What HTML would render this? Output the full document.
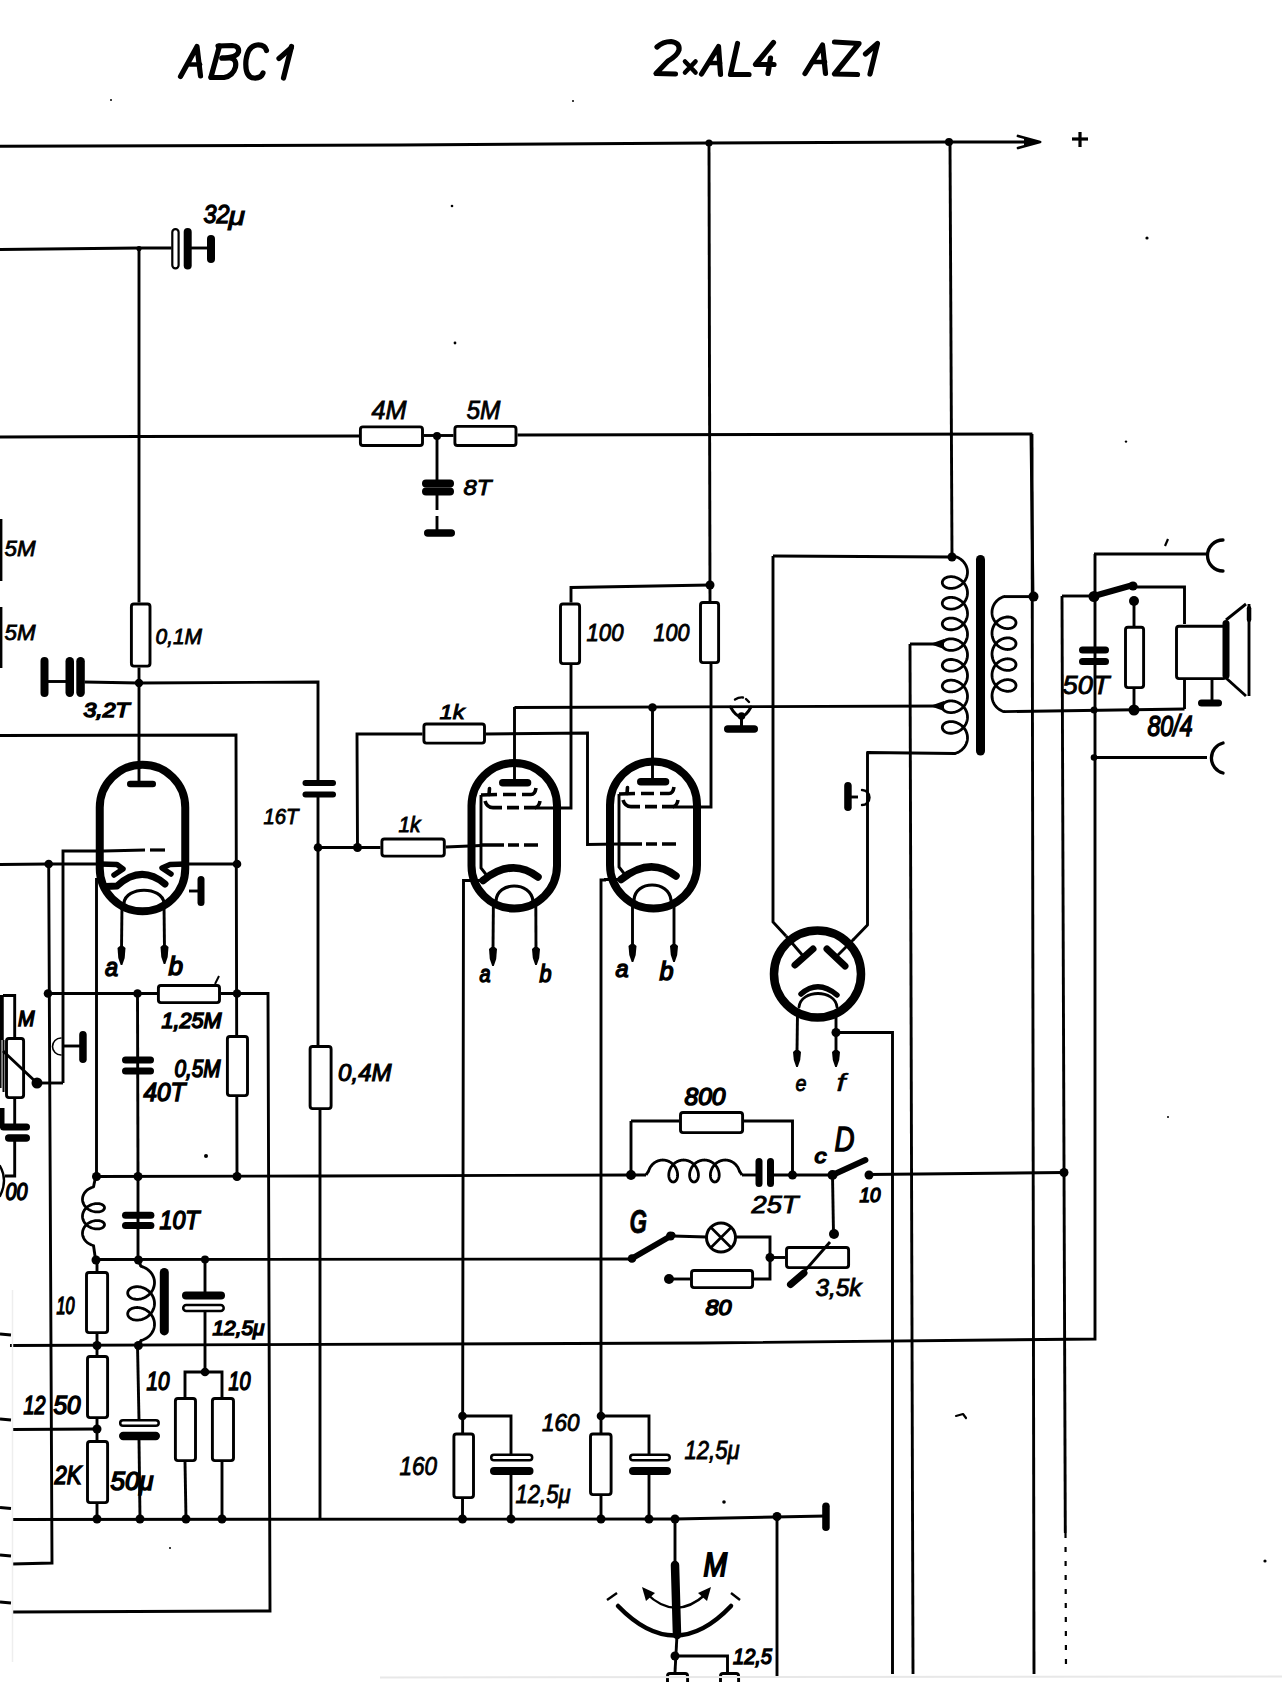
<!DOCTYPE html>
<html><head><meta charset="utf-8"><style>
html,body{margin:0;padding:0;background:#fff;}
svg{display:block;}
text{fill:#000;}
</style></head><body>
<svg width="1282" height="1682" viewBox="0 0 1282 1682">
<rect x="0" y="0" width="1282" height="1682" fill="#fff"/>
<path d="M180.5,76.5 L197,46.5 L200.5,76" fill="none" stroke="#000" stroke-width="5.2" stroke-linecap="round" stroke-linejoin="round"/>
<path d="M190,64.5 L200,64.5" fill="none" stroke="#000" stroke-width="4.7" stroke-linecap="round" stroke-linejoin="round"/>
<path d="M219.5,46 L211,77" fill="none" stroke="#000" stroke-width="5.2" stroke-linecap="round" stroke-linejoin="round"/>
<path d="M218,46 L232,45.5 Q239.5,46 238.5,52 Q237,57 225,58 L222,58" fill="none" stroke="#000" stroke-width="5.2" stroke-linecap="round" stroke-linejoin="round"/>
<path d="M222,58 L230,58 Q237,59 235.5,67 Q233,76 224,77.5 L211,77.5" fill="none" stroke="#000" stroke-width="5.2" stroke-linecap="round" stroke-linejoin="round"/>
<path d="M266.5,50.5 Q265,44.5 257,45 Q248,46 246,60 Q244.5,77 254,78 Q261,78.5 263,73" fill="none" stroke="#000" stroke-width="5.2" stroke-linecap="round" stroke-linejoin="round"/>
<path d="M279,58.5 L291,48" fill="none" stroke="#000" stroke-width="5.2" stroke-linecap="round" stroke-linejoin="round"/>
<path d="M291.5,46.5 L283.5,78" fill="none" stroke="#000" stroke-width="5.2" stroke-linecap="round" stroke-linejoin="round"/>
<path d="M657,47 Q663,41.5 671,41.5 Q680,42.5 679,50 Q677,56 668,61 L656,73.5 L675.5,74" fill="none" stroke="#000" stroke-width="5.2" stroke-linecap="round" stroke-linejoin="round"/>
<path d="M685,61.5 L695.5,72.5 M695.5,61.5 L685,72.5" fill="none" stroke="#000" stroke-width="4.6" stroke-linecap="round" stroke-linejoin="round"/>
<path d="M701.5,74 L718.5,46.5 L720.5,74.5" fill="none" stroke="#000" stroke-width="5.2" stroke-linecap="round" stroke-linejoin="round"/>
<path d="M709,63 L720,63" fill="none" stroke="#000" stroke-width="4.7" stroke-linecap="round" stroke-linejoin="round"/>
<path d="M737.5,43.5 L730.5,74.5 L749,74.5" fill="none" stroke="#000" stroke-width="5.2" stroke-linecap="round" stroke-linejoin="round"/>
<path d="M773.5,42.5 L755.5,64.5 L774,64.5" fill="none" stroke="#000" stroke-width="5.2" stroke-linecap="round" stroke-linejoin="round"/>
<path d="M770.5,58 L768,73.5" fill="none" stroke="#000" stroke-width="5.2" stroke-linecap="round" stroke-linejoin="round"/>
<path d="M805,73.5 L822.5,45 L825.5,73.5" fill="none" stroke="#000" stroke-width="5.2" stroke-linecap="round" stroke-linejoin="round"/>
<path d="M812,62 L825,62" fill="none" stroke="#000" stroke-width="4.7" stroke-linecap="round" stroke-linejoin="round"/>
<path d="M834.5,42 L859,43.5 L834.5,74 L857.5,74.5" fill="none" stroke="#000" stroke-width="5.2" stroke-linecap="round" stroke-linejoin="round"/>
<path d="M865.5,54 L877.5,43.5 L870,74" fill="none" stroke="#000" stroke-width="5.2" stroke-linecap="round" stroke-linejoin="round"/>
<polyline points="0.0,146.2 400.0,145.0 709.0,143.0 948.0,142.0 1036.0,142.0" fill="none" stroke="#000" stroke-width="2.9" stroke-linejoin="miter" stroke-linecap="butt"/>
<path d="M1018,136 L1040,142 L1018,148" fill="none" stroke="#000" stroke-width="2.8" stroke-linecap="round" stroke-linejoin="round"/>
<path d="M1024,138.5 L1042,142 L1024,145.5 Z" fill="#000" stroke="none"/>
<polyline points="1072.0,139.0 1088.0,139.0" fill="none" stroke="#000" stroke-width="3.2" stroke-linejoin="miter" stroke-linecap="butt"/>
<polyline points="1080.0,132.0 1080.0,147.0" fill="none" stroke="#000" stroke-width="3.2" stroke-linejoin="miter" stroke-linecap="butt"/>
<circle cx="709" cy="143" r="3.6" fill="#000"/>
<circle cx="949" cy="142" r="4" fill="#000"/>
<circle cx="1147" cy="238" r="1.6" fill="#000"/>
<polyline points="0.0,249.5 139.0,248.0 171.5,248.0" fill="none" stroke="#000" stroke-width="2.9" stroke-linejoin="miter" stroke-linecap="butt"/>
<circle cx="139" cy="248.5" r="2.6" fill="#000"/>
<rect x="172.3" y="229.1" width="6.3" height="39.3" rx="3.1" fill="#fff" stroke="#000" stroke-width="2.2"/>
<rect x="183.7" y="228" width="8" height="41.5" rx="4.0" fill="#000"/>
<polyline points="191.0,248.0 208.0,248.0" fill="none" stroke="#000" stroke-width="2.9" stroke-linejoin="miter" stroke-linecap="butt"/>
<rect x="207.0" y="235" width="8" height="28" rx="4.0" fill="#000"/>
<text x="203.5" y="222.8" font-family="Liberation Sans" font-size="25.4" font-style="italic" font-weight="normal" textLength="26.0" lengthAdjust="spacingAndGlyphs" stroke="#000" stroke-width="1.3">32</text>
<text x="228.5" y="225.0" font-family="Liberation Sans" font-size="25.3" font-style="italic" font-weight="normal" textLength="16.5" lengthAdjust="spacingAndGlyphs" stroke="#000" stroke-width="1.1">μ</text>
<polyline points="0.0,437.0 139.0,436.5 359.0,436.0" fill="none" stroke="#000" stroke-width="2.9" stroke-linejoin="miter" stroke-linecap="butt"/>
<rect x="360.4" y="426.9" width="62.1" height="18.6" rx="2.5" fill="#fff" stroke="#000" stroke-width="2.9"/>
<polyline points="424.0,435.5 453.5,435.5" fill="none" stroke="#000" stroke-width="2.9" stroke-linejoin="miter" stroke-linecap="butt"/>
<rect x="454.9" y="426.4" width="61.1" height="19.1" rx="2.5" fill="#fff" stroke="#000" stroke-width="2.9"/>
<polyline points="517.5,435.0 1031.0,434.0 1033.0,596.0" fill="none" stroke="#000" stroke-width="2.9" stroke-linejoin="miter" stroke-linecap="butt"/>
<circle cx="437" cy="436" r="4" fill="#000"/>
<polyline points="437.0,436.0 437.0,481.0" fill="none" stroke="#000" stroke-width="2.9" stroke-linejoin="miter" stroke-linecap="butt"/>
<rect x="422" y="479.5" width="32" height="8" rx="4.0" fill="#000"/>
<rect x="422" y="487.5" width="32" height="8" rx="4.0" fill="#000"/>
<polyline points="437.0,495.0 437.0,510.0" fill="none" stroke="#000" stroke-width="2.9" stroke-linejoin="miter" stroke-linecap="butt"/>
<polyline points="437.0,516.0 437.0,533.0" fill="none" stroke="#000" stroke-width="2.9" stroke-linejoin="miter" stroke-linecap="butt"/>
<rect x="424" y="529.2" width="31" height="7.5" rx="3.8" fill="#000"/>
<text x="371.5" y="419.0" font-family="Liberation Sans" font-size="25.0" font-style="italic" font-weight="normal" textLength="35.0" lengthAdjust="spacingAndGlyphs" stroke="#000" stroke-width="0.8">4M</text>
<text x="466.5" y="419.0" font-family="Liberation Sans" font-size="25.0" font-style="italic" font-weight="normal" textLength="34.0" lengthAdjust="spacingAndGlyphs" stroke="#000" stroke-width="0.8">5M</text>
<text x="463.5" y="495.0" font-family="Liberation Sans" font-size="22.2" font-style="italic" font-weight="normal" textLength="28.0" lengthAdjust="spacingAndGlyphs" stroke="#000" stroke-width="0.9">8T</text>
<polyline points="139.0,248.0 139.0,602.5" fill="none" stroke="#000" stroke-width="2.9" stroke-linejoin="miter" stroke-linecap="butt"/>
<rect x="131.4" y="604.0" width="18.6" height="62.1" rx="2.5" fill="#fff" stroke="#000" stroke-width="2.9"/>
<text x="155.5" y="644.0" font-family="Liberation Sans" font-size="22.9" font-style="italic" font-weight="normal" textLength="46.5" lengthAdjust="spacingAndGlyphs" stroke="#000" stroke-width="0.9">0,1M</text>
<polyline points="139.0,667.5 139.0,784.0" fill="none" stroke="#000" stroke-width="2.9" stroke-linejoin="miter" stroke-linecap="butt"/>
<circle cx="139" cy="683" r="4.2" fill="#000"/>
<polyline points="84.5,682.0 139.0,683.0 318.0,682.0 318.0,780.0" fill="none" stroke="#000" stroke-width="2.9" stroke-linejoin="miter" stroke-linecap="butt"/>
<rect x="40.5" y="657" width="8" height="40" rx="4.0" fill="#000"/>
<polyline points="48.0,681.5 66.0,681.5" fill="none" stroke="#000" stroke-width="2.9" stroke-linejoin="miter" stroke-linecap="butt"/>
<rect x="65.5" y="657" width="8.5" height="40" rx="4.2" fill="#000"/>
<rect x="76.3" y="657" width="8.5" height="40" rx="4.2" fill="#000"/>
<text x="83.5" y="717.0" font-family="Liberation Sans" font-size="20.8" font-style="italic" font-weight="normal" textLength="46.0" lengthAdjust="spacingAndGlyphs" stroke="#000" stroke-width="1.5">3,2T</text>
<polyline points="1.2,519.0 1.2,581.0" fill="none" stroke="#000" stroke-width="2.4" stroke-linejoin="miter" stroke-linecap="butt"/>
<polyline points="1.2,607.0 1.2,668.0" fill="none" stroke="#000" stroke-width="2.4" stroke-linejoin="miter" stroke-linecap="butt"/>
<text x="4.5" y="555.5" font-family="Liberation Sans" font-size="21.5" font-style="italic" font-weight="normal" textLength="31.0" lengthAdjust="spacingAndGlyphs" stroke="#000" stroke-width="0.8">5M</text>
<text x="4.5" y="640.0" font-family="Liberation Sans" font-size="21.5" font-style="italic" font-weight="normal" textLength="31.0" lengthAdjust="spacingAndGlyphs" stroke="#000" stroke-width="0.8">5M</text>
<rect x="99.75" y="764.75" width="85.5" height="146.5" rx="42.75" ry="42.75" fill="none" stroke="#000" stroke-width="8"/>
<rect x="127" y="780.8" width="29" height="6.5" rx="3.2" fill="#000"/>
<polyline points="0.0,735.5 236.0,735.0 237.0,1176.0" fill="none" stroke="#000" stroke-width="2.9" stroke-linejoin="miter" stroke-linecap="butt"/>
<polyline points="63.0,1083.0 63.0,851.0 104.0,851.0" fill="none" stroke="#000" stroke-width="2.9" stroke-linejoin="miter" stroke-linecap="butt"/>
<polyline points="104.0,851.0 145.0,850.0" fill="none" stroke="#000" stroke-width="3" stroke-linejoin="miter" stroke-linecap="butt"/>
<polyline points="150.0,850.0 165.0,850.0" fill="none" stroke="#000" stroke-width="3.2" stroke-linejoin="miter" stroke-linecap="butt"/>
<polyline points="0.0,864.5 48.7,864.0 100.0,864.0" fill="none" stroke="#000" stroke-width="2.9" stroke-linejoin="miter" stroke-linecap="butt"/>
<polyline points="187.0,864.0 237.0,864.0" fill="none" stroke="#000" stroke-width="2.9" stroke-linejoin="miter" stroke-linecap="butt"/>
<circle cx="48.7" cy="864" r="4.3" fill="#000"/>
<circle cx="237" cy="864" r="4.3" fill="#000"/>
<path d="M100,864 L117,864.5 L123,869 L114,875" fill="none" stroke="#000" stroke-width="5.5" stroke-linecap="round" stroke-linejoin="round"/>
<path d="M186,864 L170,864.5 L162,868 L171,874" fill="none" stroke="#000" stroke-width="5.5" stroke-linecap="round" stroke-linejoin="round"/>
<path d="M106,886.5 L117,886 Q141,864 165,884" fill="none" stroke="#000" stroke-width="7" stroke-linecap="round" stroke-linejoin="round"/>
<path d="M124,903 C126,886 162,886 164,903" fill="none" stroke="#000" stroke-width="3.2" stroke-linecap="round" stroke-linejoin="round"/>
<polyline points="96.5,878.0 96.5,1176.0" fill="none" stroke="#000" stroke-width="2.9" stroke-linejoin="miter" stroke-linecap="butt"/>
<polyline points="189.0,891.0 200.0,891.0" fill="none" stroke="#000" stroke-width="2.9" stroke-linejoin="miter" stroke-linecap="butt"/>
<rect x="197.5" y="876" width="7" height="30" rx="3.5" fill="#000"/>
<polyline points="122.0,904.0 121.5,950.0" fill="none" stroke="#000" stroke-width="2.9" stroke-linejoin="miter" stroke-linecap="butt"/>
<path d="M117.5,948 Q121.5,943 125.5,948 L124.7,958 L122.3,965 L120.7,965 L118.3,958 Z" fill="#000" stroke="none"/>
<polyline points="164.0,904.0 164.5,950.0" fill="none" stroke="#000" stroke-width="2.9" stroke-linejoin="miter" stroke-linecap="butt"/>
<path d="M160.5,947 Q164.5,942 168.5,947 L167.7,957 L165.3,964 L163.7,964 L161.3,957 Z" fill="#000" stroke="none"/>
<text x="105.0" y="976.0" font-family="Liberation Sans" font-size="26.4" font-style="italic" font-weight="normal" textLength="13.1" lengthAdjust="spacingAndGlyphs" stroke="#000" stroke-width="1.5">a</text>
<text x="168.5" y="975.0" font-family="Liberation Sans" font-size="25.0" font-style="italic" font-weight="normal" textLength="14.5" lengthAdjust="spacingAndGlyphs" stroke="#000" stroke-width="1.5">b</text>
<polyline points="48.7,864.0 52.0,1563.0 12.0,1564.0" fill="none" stroke="#000" stroke-width="2.9" stroke-linejoin="miter" stroke-linecap="butt"/>
<polyline points="47.5,993.5 157.0,993.5" fill="none" stroke="#000" stroke-width="2.9" stroke-linejoin="miter" stroke-linecap="butt"/>
<rect x="158.4" y="985.5" width="61.1" height="17.1" rx="2.5" fill="#fff" stroke="#000" stroke-width="2.9"/>
<polyline points="215.0,984.0 219.0,976.0" fill="none" stroke="#000" stroke-width="2" stroke-linejoin="miter" stroke-linecap="butt"/>
<polyline points="221.0,993.5 268.0,993.5 270.0,1611.0 13.0,1612.0" fill="none" stroke="#000" stroke-width="2.9" stroke-linejoin="miter" stroke-linecap="butt"/>
<circle cx="48" cy="993.5" r="4.3" fill="#000"/>
<circle cx="137.5" cy="993.5" r="4.3" fill="#000"/>
<circle cx="237" cy="993.5" r="4.3" fill="#000"/>
<text x="161.5" y="1028.0" font-family="Liberation Sans" font-size="22.2" font-style="italic" font-weight="normal" textLength="60.0" lengthAdjust="spacingAndGlyphs" stroke="#000" stroke-width="1.5">1,25M</text>
<polyline points="137.5,993.5 138.0,1176.0" fill="none" stroke="#000" stroke-width="2.9" stroke-linejoin="miter" stroke-linecap="butt"/>
<rect x="122" y="1056.5" width="32" height="7" rx="3.5" fill="#000"/>
<rect x="122" y="1067.5" width="32" height="7" rx="3.5" fill="#000"/>
<text x="143.5" y="1101.0" font-family="Liberation Sans" font-size="26.4" font-style="italic" font-weight="normal" textLength="42.0" lengthAdjust="spacingAndGlyphs" stroke="#000" stroke-width="1.5">40T</text>
<rect x="227.4" y="1036.5" width="20.1" height="59.1" rx="2.5" fill="#fff" stroke="#000" stroke-width="2.9"/>
<text x="174.5" y="1077.0" font-family="Liberation Sans" font-size="23.6" font-style="italic" font-weight="normal" textLength="46.0" lengthAdjust="spacingAndGlyphs" stroke="#000" stroke-width="1.5">0,5M</text>
<polyline points="96.0,1176.5 320.0,1176.0 631.0,1175.0 646.0,1175.0" fill="none" stroke="#000" stroke-width="2.9" stroke-linejoin="miter" stroke-linecap="butt"/>
<circle cx="96.5" cy="1176.5" r="4.5" fill="#000"/>
<circle cx="138" cy="1176.5" r="4.5" fill="#000"/>
<circle cx="237" cy="1176.5" r="4.5" fill="#000"/>
<path d="M93.50,1187.00 L92.64,1187.24 L91.78,1187.52 L90.93,1187.86 L90.10,1188.24 L89.29,1188.67 L88.51,1189.15 L87.75,1189.67 L87.03,1190.23 L86.36,1190.83 L85.72,1191.47 L85.14,1192.14 L84.60,1192.85 L84.12,1193.58 L83.70,1194.34 L83.34,1195.13 L83.04,1195.93 L82.80,1196.74 L82.64,1197.57 L82.53,1198.41 L82.50,1199.25 L82.53,1200.09 L82.64,1200.93 L82.80,1201.76 L83.04,1202.57 L83.34,1203.37 L83.70,1204.16 L84.12,1204.92 L84.60,1205.65 L85.14,1206.36 L85.72,1207.03 L86.36,1207.67 L87.03,1208.27 L87.75,1208.83 L88.51,1209.35 L89.29,1209.83 L90.10,1210.26 L90.93,1210.64 L91.78,1210.98 L92.64,1211.26 L93.50,1211.50 L94.36,1211.69 L95.22,1211.83 L96.07,1211.92 L96.90,1211.96 L97.71,1211.95 L98.49,1211.90 L99.25,1211.81 L99.97,1211.67 L100.64,1211.50 L101.28,1211.28 L101.86,1211.03 L102.40,1210.75 L102.88,1210.44 L103.30,1210.11 L103.66,1209.75 L103.96,1209.37 L104.20,1208.98 L104.36,1208.58 L104.47,1208.17 L104.50,1207.75 L104.47,1207.33 L104.36,1206.92 L104.20,1206.52 L103.96,1206.13 L103.66,1205.75 L103.30,1205.39 L102.88,1205.06 L102.40,1204.75 L101.86,1204.47 L101.28,1204.22 L100.64,1204.00 L99.97,1203.83 L99.25,1203.69 L98.49,1203.60 L97.71,1203.55 L96.90,1203.54 L96.07,1203.58 L95.22,1203.67 L94.36,1203.81 L93.50,1204.00 L92.64,1204.24 L91.78,1204.52 L90.93,1204.86 L90.10,1205.24 L89.29,1205.67 L88.51,1206.15 L87.75,1206.67 L87.03,1207.23 L86.36,1207.83 L85.72,1208.47 L85.14,1209.14 L84.60,1209.85 L84.12,1210.58 L83.70,1211.34 L83.34,1212.13 L83.04,1212.93 L82.80,1213.74 L82.64,1214.57 L82.53,1215.41 L82.50,1216.25 L82.53,1217.09 L82.64,1217.93 L82.80,1218.76 L83.04,1219.57 L83.34,1220.37 L83.70,1221.16 L84.12,1221.92 L84.60,1222.65 L85.14,1223.36 L85.72,1224.03 L86.36,1224.67 L87.03,1225.27 L87.75,1225.83 L88.51,1226.35 L89.29,1226.83 L90.10,1227.26 L90.93,1227.64 L91.78,1227.98 L92.64,1228.26 L93.50,1228.50 L94.36,1228.69 L95.22,1228.83 L96.07,1228.92 L96.90,1228.96 L97.71,1228.95 L98.49,1228.90 L99.25,1228.81 L99.97,1228.67 L100.64,1228.50 L101.28,1228.28 L101.86,1228.03 L102.40,1227.75 L102.88,1227.44 L103.30,1227.11 L103.66,1226.75 L103.96,1226.37 L104.20,1225.98 L104.36,1225.58 L104.47,1225.17 L104.50,1224.75 L104.47,1224.33 L104.36,1223.92 L104.20,1223.52 L103.96,1223.13 L103.66,1222.75 L103.30,1222.39 L102.88,1222.06 L102.40,1221.75 L101.86,1221.47 L101.28,1221.22 L100.64,1221.00 L99.97,1220.83 L99.25,1220.69 L98.49,1220.60 L97.71,1220.55 L96.90,1220.54 L96.07,1220.58 L95.22,1220.67 L94.36,1220.81 L93.50,1221.00 L92.64,1221.24 L91.78,1221.52 L90.93,1221.86 L90.10,1222.24 L89.29,1222.67 L88.51,1223.15 L87.75,1223.67 L87.03,1224.23 L86.36,1224.83 L85.72,1225.47 L85.14,1226.14 L84.60,1226.85 L84.12,1227.58 L83.70,1228.34 L83.34,1229.13 L83.04,1229.93 L82.80,1230.74 L82.64,1231.57 L82.53,1232.41 L82.50,1233.25 L82.53,1234.09 L82.64,1234.93 L82.80,1235.76 L83.04,1236.57 L83.34,1237.37 L83.70,1238.16 L84.12,1238.92 L84.60,1239.65 L85.14,1240.36 L85.72,1241.03 L86.36,1241.67 L87.03,1242.27 L87.75,1242.83 L88.51,1243.35 L89.29,1243.83 L90.10,1244.26 L90.93,1244.64 L91.78,1244.98 L92.64,1245.26 L93.50,1245.50" fill="none" stroke="#000" stroke-width="2.8" stroke-linecap="round" stroke-linejoin="round"/>
<polyline points="95.6,1176.7 93.5,1187.0" fill="none" stroke="#000" stroke-width="2.9" stroke-linejoin="miter" stroke-linecap="butt"/>
<polyline points="93.5,1245.5 95.6,1260.0" fill="none" stroke="#000" stroke-width="2.9" stroke-linejoin="miter" stroke-linecap="butt"/>
<polyline points="138.0,1176.0 138.0,1259.0" fill="none" stroke="#000" stroke-width="2.9" stroke-linejoin="miter" stroke-linecap="butt"/>
<rect x="122" y="1211.8" width="32.400000000000006" height="7" rx="3.5" fill="#000"/>
<rect x="122" y="1222.1" width="32.400000000000006" height="7" rx="3.5" fill="#000"/>
<text x="159.5" y="1229.0" font-family="Liberation Sans" font-size="25.0" font-style="italic" font-weight="normal" textLength="40.0" lengthAdjust="spacingAndGlyphs" stroke="#000" stroke-width="1.5">10T</text>
<polyline points="96.0,1259.5 631.0,1259.0" fill="none" stroke="#000" stroke-width="2.9" stroke-linejoin="miter" stroke-linecap="butt"/>
<circle cx="96" cy="1260" r="4.5" fill="#000"/>
<circle cx="138.4" cy="1260" r="4.5" fill="#000"/>
<circle cx="205" cy="1259.5" r="4" fill="#000"/>
<rect x="6.5" y="1038.5" width="17.1" height="59.1" rx="2.5" fill="#fff" stroke="#000" stroke-width="2.9"/>
<polyline points="14.7,1037.0 14.7,995.5 3.0,995.5" fill="none" stroke="#000" stroke-width="2.9" stroke-linejoin="miter" stroke-linecap="butt"/>
<polyline points="3.0,1051.0 37.0,1083.0" fill="none" stroke="#000" stroke-width="2.9" stroke-linejoin="miter" stroke-linecap="butt"/>
<circle cx="37" cy="1083" r="5.5" fill="#000"/>
<polyline points="37.0,1083.0 63.0,1083.0" fill="none" stroke="#000" stroke-width="2.9" stroke-linejoin="miter" stroke-linecap="butt"/>
<text x="18.0" y="1026.0" font-family="Liberation Sans" font-size="22.2" font-style="italic" font-weight="normal" textLength="16.5" lengthAdjust="spacingAndGlyphs" stroke="#000" stroke-width="1.5">M</text>
<polyline points="14.7,1099.0 14.7,1127.0" fill="none" stroke="#000" stroke-width="2.9" stroke-linejoin="miter" stroke-linecap="butt"/>
<rect x="0" y="1123.5" width="30" height="7" rx="3.5" fill="#000"/>
<rect x="5" y="1134.2" width="25" height="7.5" rx="3.8" fill="#000"/>
<polyline points="14.7,1139.0 14.7,1176.0 5.0,1176.0" fill="none" stroke="#000" stroke-width="2.9" stroke-linejoin="miter" stroke-linecap="butt"/>
<text x="5.5" y="1200.0" font-family="Liberation Sans" font-size="23.6" font-style="italic" font-weight="normal" textLength="22.0" lengthAdjust="spacingAndGlyphs" stroke="#000" stroke-width="1.5">00</text>
<polyline points="1.5,995.0 1.5,1040.0" fill="none" stroke="#000" stroke-width="4.5" stroke-linejoin="miter" stroke-linecap="butt"/>
<polyline points="3.5,1040.0 3.5,1092.0" fill="none" stroke="#000" stroke-width="2" stroke-linejoin="miter" stroke-linecap="butt"/>
<polyline points="0.8,1040.0 0.8,1088.0" fill="none" stroke="#000" stroke-width="1.5" stroke-linejoin="miter" stroke-linecap="butt"/>
<rect x="0" y="1108" width="4.5" height="20" fill="#000"/>
<path d="M0,1166 Q8,1180 0,1196" fill="none" stroke="#000" stroke-width="2.4" stroke-linecap="round" stroke-linejoin="round"/>
<path d="M61,1038 A8,8 0 1,0 61,1055" fill="none" stroke="#000" stroke-width="1.6" stroke-linecap="round" stroke-linejoin="round"/>
<polyline points="63.0,1046.0 80.0,1046.0" fill="none" stroke="#000" stroke-width="2.9" stroke-linejoin="miter" stroke-linecap="butt"/>
<rect x="79.2" y="1031" width="7.5" height="32" rx="3.8" fill="#000"/>
<polyline points="97.0,1259.5 97.0,1271.0" fill="none" stroke="#000" stroke-width="2.9" stroke-linejoin="miter" stroke-linecap="butt"/>
<rect x="86.5" y="1272.5" width="21.1" height="60.1" rx="2.5" fill="#fff" stroke="#000" stroke-width="2.9"/>
<text x="56.5" y="1314.0" font-family="Liberation Sans" font-size="23.6" font-style="italic" font-weight="normal" textLength="18.0" lengthAdjust="spacingAndGlyphs" stroke="#000" stroke-width="1.5">10</text>
<polyline points="97.0,1334.0 97.0,1355.0" fill="none" stroke="#000" stroke-width="2.9" stroke-linejoin="miter" stroke-linecap="butt"/>
<path d="M141.10,1266.40 L142.15,1266.69 L143.20,1267.06 L144.23,1267.48 L145.24,1267.98 L146.23,1268.54 L147.18,1269.16 L148.10,1269.84 L148.98,1270.58 L149.80,1271.38 L150.58,1272.22 L151.29,1273.12 L151.94,1274.05 L152.53,1275.03 L153.04,1276.05 L153.48,1277.09 L153.84,1278.16 L154.13,1279.25 L154.34,1280.36 L154.46,1281.48 L154.50,1282.60 L154.46,1283.72 L154.34,1284.84 L154.13,1285.95 L153.84,1287.04 L153.48,1288.11 L153.04,1289.15 L152.53,1290.17 L151.94,1291.15 L151.29,1292.08 L150.58,1292.98 L149.80,1293.82 L148.98,1294.62 L148.10,1295.36 L147.18,1296.04 L146.23,1296.66 L145.24,1297.22 L144.23,1297.72 L143.20,1298.14 L142.15,1298.51 L141.10,1298.80 L140.05,1299.03 L139.00,1299.18 L137.97,1299.28 L136.96,1299.30 L135.97,1299.26 L135.02,1299.16 L134.10,1299.00 L133.22,1298.78 L132.40,1298.50 L131.62,1298.18 L130.91,1297.80 L130.26,1297.39 L129.67,1296.93 L129.16,1296.43 L128.72,1295.91 L128.36,1295.36 L128.07,1294.79 L127.86,1294.20 L127.74,1293.60 L127.70,1293.00 L127.74,1292.40 L127.86,1291.80 L128.07,1291.21 L128.36,1290.64 L128.72,1290.09 L129.16,1289.57 L129.67,1289.07 L130.26,1288.61 L130.91,1288.20 L131.62,1287.82 L132.40,1287.50 L133.22,1287.22 L134.10,1287.00 L135.02,1286.84 L135.97,1286.74 L136.96,1286.70 L137.97,1286.72 L139.00,1286.82 L140.05,1286.97 L141.10,1287.20 L142.15,1287.49 L143.20,1287.86 L144.23,1288.28 L145.24,1288.78 L146.23,1289.34 L147.18,1289.96 L148.10,1290.64 L148.98,1291.38 L149.80,1292.18 L150.58,1293.02 L151.29,1293.92 L151.94,1294.85 L152.53,1295.83 L153.04,1296.85 L153.48,1297.89 L153.84,1298.96 L154.13,1300.05 L154.34,1301.16 L154.46,1302.28 L154.50,1303.40 L154.46,1304.52 L154.34,1305.64 L154.13,1306.75 L153.84,1307.84 L153.48,1308.91 L153.04,1309.95 L152.53,1310.97 L151.94,1311.95 L151.29,1312.88 L150.58,1313.78 L149.80,1314.62 L148.98,1315.42 L148.10,1316.16 L147.18,1316.84 L146.23,1317.46 L145.24,1318.02 L144.23,1318.52 L143.20,1318.94 L142.15,1319.31 L141.10,1319.60 L140.05,1319.83 L139.00,1319.98 L137.97,1320.08 L136.96,1320.10 L135.97,1320.06 L135.02,1319.96 L134.10,1319.80 L133.22,1319.58 L132.40,1319.30 L131.62,1318.98 L130.91,1318.60 L130.26,1318.19 L129.67,1317.73 L129.16,1317.23 L128.72,1316.71 L128.36,1316.16 L128.07,1315.59 L127.86,1315.00 L127.74,1314.40 L127.70,1313.80 L127.74,1313.20 L127.86,1312.60 L128.07,1312.01 L128.36,1311.44 L128.72,1310.89 L129.16,1310.37 L129.67,1309.87 L130.26,1309.41 L130.91,1309.00 L131.62,1308.62 L132.40,1308.30 L133.22,1308.02 L134.10,1307.80 L135.02,1307.64 L135.97,1307.54 L136.96,1307.50 L137.97,1307.52 L139.00,1307.62 L140.05,1307.77 L141.10,1308.00 L142.15,1308.29 L143.20,1308.66 L144.23,1309.08 L145.24,1309.58 L146.23,1310.14 L147.18,1310.76 L148.10,1311.44 L148.98,1312.18 L149.80,1312.98 L150.58,1313.82 L151.29,1314.72 L151.94,1315.65 L152.53,1316.63 L153.04,1317.65 L153.48,1318.69 L153.84,1319.76 L154.13,1320.85 L154.34,1321.96 L154.46,1323.08 L154.50,1324.20 L154.46,1325.32 L154.34,1326.44 L154.13,1327.55 L153.84,1328.64 L153.48,1329.71 L153.04,1330.75 L152.53,1331.77 L151.94,1332.75 L151.29,1333.68 L150.58,1334.58 L149.80,1335.42 L148.98,1336.22 L148.10,1336.96 L147.18,1337.64 L146.23,1338.26 L145.24,1338.82 L144.23,1339.32 L143.20,1339.74 L142.15,1340.11 L141.10,1340.40" fill="none" stroke="#000" stroke-width="2.8" stroke-linecap="round" stroke-linejoin="round"/>
<polyline points="138.4,1261.0 141.1,1266.4" fill="none" stroke="#000" stroke-width="2.9" stroke-linejoin="miter" stroke-linecap="butt"/>
<polyline points="141.1,1340.4 138.4,1345.5" fill="none" stroke="#000" stroke-width="2.9" stroke-linejoin="miter" stroke-linecap="butt"/>
<rect x="159.8" y="1268" width="9" height="67.40000000000009" rx="4.5" fill="#000"/>
<polyline points="205.0,1259.0 205.0,1292.0" fill="none" stroke="#000" stroke-width="2.9" stroke-linejoin="miter" stroke-linecap="butt"/>
<rect x="182" y="1291.5" width="43" height="8" rx="4.0" fill="#000"/>
<rect x="183.2" y="1305.0" width="40.5" height="6.0" rx="3.0" fill="#fff" stroke="#000" stroke-width="2.5"/>
<polyline points="205.0,1312.0 205.0,1372.0" fill="none" stroke="#000" stroke-width="2.9" stroke-linejoin="miter" stroke-linecap="butt"/>
<text x="212.5" y="1335.0" font-family="Liberation Sans" font-size="20.8" font-style="italic" font-weight="normal" textLength="52.0" lengthAdjust="spacingAndGlyphs" stroke="#000" stroke-width="1.5">12,5μ</text>
<polyline points="10.0,1345.5 700.0,1343.0 1095.0,1339.0 1095.0,554.0" fill="none" stroke="#000" stroke-width="2.9" stroke-linejoin="miter" stroke-linecap="butt"/>
<circle cx="97" cy="1345.5" r="4.5" fill="#000"/>
<circle cx="138.4" cy="1345.5" r="4.5" fill="#000"/>
<rect x="87.5" y="1356.5" width="20.1" height="61.1" rx="2.5" fill="#fff" stroke="#000" stroke-width="2.9"/>
<polyline points="97.0,1419.0 97.0,1440.0" fill="none" stroke="#000" stroke-width="2.9" stroke-linejoin="miter" stroke-linecap="butt"/>
<circle cx="97" cy="1429" r="4.5" fill="#000"/>
<polyline points="12.0,1429.5 97.0,1429.0" fill="none" stroke="#000" stroke-width="2.9" stroke-linejoin="miter" stroke-linecap="butt"/>
<text x="23.5" y="1414.0" font-family="Liberation Sans" font-size="25.0" font-style="italic" font-weight="normal" textLength="22.0" lengthAdjust="spacingAndGlyphs" stroke="#000" stroke-width="1.5">12</text>
<text x="53.5" y="1414.0" font-family="Liberation Sans" font-size="25.0" font-style="italic" font-weight="normal" textLength="27.0" lengthAdjust="spacingAndGlyphs" stroke="#000" stroke-width="1.5">50</text>
<rect x="87.5" y="1441.5" width="20.1" height="61.1" rx="2.5" fill="#fff" stroke="#000" stroke-width="2.9"/>
<polyline points="97.0,1504.0 97.0,1519.0" fill="none" stroke="#000" stroke-width="2.9" stroke-linejoin="miter" stroke-linecap="butt"/>
<text x="54.5" y="1484.0" font-family="Liberation Sans" font-size="26.4" font-style="italic" font-weight="normal" textLength="27.0" lengthAdjust="spacingAndGlyphs" stroke="#000" stroke-width="1.5">2K</text>
<polyline points="137.5,1345.0 139.0,1420.0" fill="none" stroke="#000" stroke-width="2.9" stroke-linejoin="miter" stroke-linecap="butt"/>
<rect x="120.2" y="1420.2" width="38.5" height="5.5" rx="2.8" fill="#fff" stroke="#000" stroke-width="2.5"/>
<rect x="119" y="1431.8" width="41" height="8.5" rx="4.2" fill="#000"/>
<polyline points="139.0,1440.0 140.0,1519.0" fill="none" stroke="#000" stroke-width="2.9" stroke-linejoin="miter" stroke-linecap="butt"/>
<text x="110.5" y="1490.0" font-family="Liberation Sans" font-size="25.0" font-style="italic" font-weight="normal" textLength="43.0" lengthAdjust="spacingAndGlyphs" stroke="#000" stroke-width="1.5">50μ</text>
<circle cx="205" cy="1372" r="4.3" fill="#000"/>
<polyline points="185.0,1397.0 185.0,1372.0 222.0,1372.0 222.0,1397.0" fill="none" stroke="#000" stroke-width="2.9" stroke-linejoin="miter" stroke-linecap="butt"/>
<rect x="175.4" y="1398.5" width="20.1" height="62.1" rx="2.5" fill="#fff" stroke="#000" stroke-width="2.9"/>
<rect x="212.4" y="1398.5" width="21.1" height="62.1" rx="2.5" fill="#fff" stroke="#000" stroke-width="2.9"/>
<polyline points="185.0,1462.0 186.0,1519.0" fill="none" stroke="#000" stroke-width="2.9" stroke-linejoin="miter" stroke-linecap="butt"/>
<polyline points="222.0,1462.0 222.0,1519.0" fill="none" stroke="#000" stroke-width="2.9" stroke-linejoin="miter" stroke-linecap="butt"/>
<text x="146.5" y="1390.0" font-family="Liberation Sans" font-size="25.0" font-style="italic" font-weight="normal" textLength="23.0" lengthAdjust="spacingAndGlyphs" stroke="#000" stroke-width="1.5">10</text>
<text x="228.5" y="1390.0" font-family="Liberation Sans" font-size="25.0" font-style="italic" font-weight="normal" textLength="22.0" lengthAdjust="spacingAndGlyphs" stroke="#000" stroke-width="1.5">10</text>
<polyline points="12.0,1519.5 675.0,1519.0 826.0,1516.0" fill="none" stroke="#000" stroke-width="2.9" stroke-linejoin="miter" stroke-linecap="butt"/>
<circle cx="97" cy="1519" r="4.5" fill="#000"/>
<circle cx="140" cy="1519" r="4.5" fill="#000"/>
<circle cx="186" cy="1519" r="4.5" fill="#000"/>
<circle cx="222" cy="1519" r="4.5" fill="#000"/>
<circle cx="462.5" cy="1519" r="4.5" fill="#000"/>
<circle cx="511" cy="1519" r="4.5" fill="#000"/>
<circle cx="601" cy="1519" r="4.5" fill="#000"/>
<circle cx="649" cy="1519" r="4.5" fill="#000"/>
<circle cx="675" cy="1519" r="4.5" fill="#000"/>
<circle cx="777" cy="1516.5" r="4.5" fill="#000"/>
<rect x="822.2" y="1502.5" width="7.5" height="28.5" rx="3.8" fill="#000"/>
<polyline points="0.0,1334.0 11.0,1335.0" fill="none" stroke="#000" stroke-width="3" stroke-linejoin="miter" stroke-linecap="butt"/>
<polyline points="0.0,1419.0 11.0,1420.0" fill="none" stroke="#000" stroke-width="3" stroke-linejoin="miter" stroke-linecap="butt"/>
<polyline points="0.0,1507.5 11.0,1508.5" fill="none" stroke="#000" stroke-width="3" stroke-linejoin="miter" stroke-linecap="butt"/>
<polyline points="0.0,1555.0 11.0,1556.0" fill="none" stroke="#000" stroke-width="3" stroke-linejoin="miter" stroke-linecap="butt"/>
<polyline points="0.0,1602.0 11.0,1603.0" fill="none" stroke="#000" stroke-width="3" stroke-linejoin="miter" stroke-linecap="butt"/>
<line x1="12.5" y1="1290" x2="12.5" y2="1662" stroke="#eeeeee" stroke-width="1.5"/>
<rect x="302.5" y="780.0" width="33.5" height="6" rx="3.0" fill="#000"/>
<rect x="302.5" y="791.5" width="33.5" height="6" rx="3.0" fill="#000"/>
<polyline points="318.0,796.0 318.0,1045.0" fill="none" stroke="#000" stroke-width="2.9" stroke-linejoin="miter" stroke-linecap="butt"/>
<rect x="310.1" y="1046.5" width="21.0" height="62.1" rx="2.5" fill="#fff" stroke="#000" stroke-width="2.9"/>
<polyline points="320.0,1110.0 320.0,1519.0" fill="none" stroke="#000" stroke-width="2.9" stroke-linejoin="miter" stroke-linecap="butt"/>
<text x="263.5" y="824.0" font-family="Liberation Sans" font-size="22.9" font-style="italic" font-weight="normal" textLength="35.0" lengthAdjust="spacingAndGlyphs" stroke="#000" stroke-width="0.9">16T</text>
<text x="338.1" y="1081.0" font-family="Liberation Sans" font-size="23.6" font-style="italic" font-weight="normal" textLength="53.4" lengthAdjust="spacingAndGlyphs" stroke="#000" stroke-width="1.1">0,4M</text>
<circle cx="318" cy="847.5" r="4.3" fill="#000"/>
<circle cx="357.5" cy="847.5" r="4.5" fill="#000"/>
<polyline points="318.0,847.5 380.5,847.5" fill="none" stroke="#000" stroke-width="2.9" stroke-linejoin="miter" stroke-linecap="butt"/>
<rect x="381.9" y="839.0" width="62.4" height="17.1" rx="2.5" fill="#fff" stroke="#000" stroke-width="2.9"/>
<polyline points="445.8,847.0 481.0,845.5" fill="none" stroke="#000" stroke-width="2.9" stroke-linejoin="miter" stroke-linecap="butt"/>
<polyline points="357.5,847.5 357.0,734.0 422.5,734.0" fill="none" stroke="#000" stroke-width="2.9" stroke-linejoin="miter" stroke-linecap="butt"/>
<rect x="423.9" y="724.0" width="60.6" height="19.1" rx="2.5" fill="#fff" stroke="#000" stroke-width="2.9"/>
<polyline points="486.0,734.0 587.5,733.0 587.5,844.5 619.0,844.0" fill="none" stroke="#000" stroke-width="2.9" stroke-linejoin="miter" stroke-linecap="butt"/>
<text x="439.5" y="719.0" font-family="Liberation Sans" font-size="19.4" font-style="italic" font-weight="normal" textLength="25.0" lengthAdjust="spacingAndGlyphs" stroke="#000" stroke-width="0.9">1k</text>
<text x="398.5" y="832.0" font-family="Liberation Sans" font-size="22.2" font-style="italic" font-weight="normal" textLength="22.0" lengthAdjust="spacingAndGlyphs" stroke="#000" stroke-width="0.9">1k</text>
<circle cx="452" cy="206" r="1.3" fill="#000"/>
<circle cx="455" cy="343" r="1.4" fill="#000"/>
<circle cx="111" cy="100" r="1.0" fill="#000"/>
<circle cx="1126" cy="441.6" r="1.2" fill="#000"/>
<circle cx="206" cy="1156" r="2.0" fill="#000"/>
<circle cx="724" cy="1502" r="1.8" fill="#000"/>
<circle cx="1168" cy="1117" r="1.0" fill="#000"/>
<circle cx="1265" cy="1561" r="1.6" fill="#000"/>
<circle cx="573" cy="101" r="1.0" fill="#000"/>
<circle cx="170" cy="1548" r="1.0" fill="#000"/>
<path d="M956,1416 L963,1414 L966,1418" fill="none" stroke="#000" stroke-width="2.2" stroke-linecap="round" stroke-linejoin="round"/>
<rect x="471.5" y="763.0" width="85.5" height="145.5" rx="42.75" ry="42.75" fill="none" stroke="#000" stroke-width="8"/>
<rect x="610.0" y="761.5" width="87" height="147.0" rx="43.5" ry="43.5" fill="none" stroke="#000" stroke-width="8"/>
<polyline points="514.5,707.0 514.5,782.0" fill="none" stroke="#000" stroke-width="2.9" stroke-linejoin="miter" stroke-linecap="butt"/>
<rect x="499" y="778.9" width="32.299999999999955" height="7.5" rx="3.8" fill="#000"/>
<path d="M481,795 L497,794.5 M503,794.5 L516,794.5 M522,794.5 L531,794.5 Q535,794.5 536,788" fill="none" stroke="#000" stroke-width="3.6" stroke-linecap="butt" stroke-linejoin="round"/>
<path d="M489,794.5 L489.5,788.5" fill="none" stroke="#000" stroke-width="3.6" stroke-linecap="round" stroke-linejoin="round"/>
<path d="M485,801 Q487,807.6 493,807.6 L502,807.6 M507,807.6 L519,807.6 M524,807.6 L535,807.6 Q539,807 540,801" fill="none" stroke="#000" stroke-width="3.6" stroke-linecap="butt" stroke-linejoin="round"/>
<polyline points="535.0,808.0 571.0,808.0 571.0,665.0" fill="none" stroke="#000" stroke-width="2.9" stroke-linejoin="miter" stroke-linecap="butt"/>
<polyline points="481.0,795.0 481.0,868.0 488.0,877.0" fill="none" stroke="#000" stroke-width="2.9" stroke-linejoin="miter" stroke-linecap="butt"/>
<path d="M480,845 L504,845 M508,845 L519,845 M524,845 L538,845" fill="none" stroke="#000" stroke-width="3.6" stroke-linecap="butt" stroke-linejoin="round"/>
<polyline points="466.0,880.5 483.0,880.5" fill="none" stroke="#000" stroke-width="3" stroke-linejoin="miter" stroke-linecap="butt"/>
<path d="M483,880.5 Q512,857 538,877" fill="none" stroke="#000" stroke-width="7.5" stroke-linecap="round" stroke-linejoin="round"/>
<path d="M496,901 C497,881 531,881 533,901" fill="none" stroke="#000" stroke-width="3.2" stroke-linecap="round" stroke-linejoin="round"/>
<polyline points="467.5,880.5 463.5,880.5 462.5,1519.0" fill="none" stroke="#000" stroke-width="2.9" stroke-linejoin="miter" stroke-linecap="butt"/>
<polyline points="493.4,902.0 493.0,950.0" fill="none" stroke="#000" stroke-width="2.9" stroke-linejoin="miter" stroke-linecap="butt"/>
<path d="M489.0,949 Q493,944 497.0,949 L496.2,959 L493.8,966 L492.2,966 L489.8,959 Z" fill="#000" stroke="none"/>
<polyline points="535.8,902.0 536.0,950.0" fill="none" stroke="#000" stroke-width="2.9" stroke-linejoin="miter" stroke-linecap="butt"/>
<path d="M532.0,949 Q536,944 540.0,949 L539.2,958 L536.8,965 L535.2,965 L532.8,958 Z" fill="#000" stroke="none"/>
<text x="479.5" y="982.0" font-family="Liberation Sans" font-size="24.5" font-style="italic" font-weight="normal" textLength="11.0" lengthAdjust="spacingAndGlyphs" stroke="#000" stroke-width="1.5">a</text>
<text x="539.5" y="982.0" font-family="Liberation Sans" font-size="23.6" font-style="italic" font-weight="normal" textLength="12.0" lengthAdjust="spacingAndGlyphs" stroke="#000" stroke-width="1.5">b</text>
<polyline points="652.5,706.0 652.5,781.0" fill="none" stroke="#000" stroke-width="2.9" stroke-linejoin="miter" stroke-linecap="butt"/>
<rect x="637" y="777.9" width="32.299999999999955" height="7.5" rx="3.8" fill="#000"/>
<path d="M619,794 L635,793.5 M641,793.5 L654,793.5 M660,793.5 L669,793.5 Q673,793.5 674,787" fill="none" stroke="#000" stroke-width="3.6" stroke-linecap="butt" stroke-linejoin="round"/>
<path d="M627,793.5 L627.5,787.5" fill="none" stroke="#000" stroke-width="3.6" stroke-linecap="round" stroke-linejoin="round"/>
<path d="M623,800 Q625,806.6 631,806.6 L640,806.6 M645,806.6 L657,806.6 M662,806.6 L673,806.6 Q677,806 678,800" fill="none" stroke="#000" stroke-width="3.6" stroke-linecap="butt" stroke-linejoin="round"/>
<polyline points="673.0,807.0 711.0,807.0 711.0,664.0" fill="none" stroke="#000" stroke-width="2.9" stroke-linejoin="miter" stroke-linecap="butt"/>
<polyline points="619.0,794.0 619.0,867.0 626.0,876.0" fill="none" stroke="#000" stroke-width="2.9" stroke-linejoin="miter" stroke-linecap="butt"/>
<path d="M618,844 L642,844 M646,844 L657,844 M662,844 L676,844" fill="none" stroke="#000" stroke-width="3.6" stroke-linecap="butt" stroke-linejoin="round"/>
<polyline points="604.0,879.5 621.0,879.5" fill="none" stroke="#000" stroke-width="3" stroke-linejoin="miter" stroke-linecap="butt"/>
<path d="M621,879.5 Q650,856 676,876" fill="none" stroke="#000" stroke-width="7.5" stroke-linecap="round" stroke-linejoin="round"/>
<path d="M634,900 C635,880 669,880 671,900" fill="none" stroke="#000" stroke-width="3.2" stroke-linecap="round" stroke-linejoin="round"/>
<polyline points="606.0,880.0 601.0,880.0 601.0,1519.0" fill="none" stroke="#000" stroke-width="2.9" stroke-linejoin="miter" stroke-linecap="butt"/>
<polyline points="632.5,902.0 632.5,948.0" fill="none" stroke="#000" stroke-width="2.9" stroke-linejoin="miter" stroke-linecap="butt"/>
<path d="M628.5,946 Q632.5,941 636.5,946 L635.7,955 L633.3,962 L631.7,962 L629.3,955 Z" fill="#000" stroke="none"/>
<polyline points="674.0,902.0 674.0,948.0" fill="none" stroke="#000" stroke-width="2.9" stroke-linejoin="miter" stroke-linecap="butt"/>
<path d="M670.0,946 Q674,941 678.0,946 L677.2,955 L674.8,962 L673.2,962 L670.8,955 Z" fill="#000" stroke="none"/>
<text x="615.5" y="977.0" font-family="Liberation Sans" font-size="24.5" font-style="italic" font-weight="normal" textLength="13.0" lengthAdjust="spacingAndGlyphs" stroke="#000" stroke-width="1.5">a</text>
<text x="659.5" y="980.0" font-family="Liberation Sans" font-size="25.0" font-style="italic" font-weight="normal" textLength="14.0" lengthAdjust="spacingAndGlyphs" stroke="#000" stroke-width="1.5">b</text>
<polyline points="709.0,143.0 710.0,601.0" fill="none" stroke="#000" stroke-width="2.9" stroke-linejoin="miter" stroke-linecap="butt"/>
<circle cx="710" cy="585" r="4.5" fill="#000"/>
<polyline points="571.0,602.5 571.0,587.5 710.0,585.0" fill="none" stroke="#000" stroke-width="2.9" stroke-linejoin="miter" stroke-linecap="butt"/>
<rect x="560.5" y="604.0" width="19.1" height="59.6" rx="2.5" fill="#fff" stroke="#000" stroke-width="2.9"/>
<rect x="700.5" y="602.5" width="18.1" height="60.1" rx="2.5" fill="#fff" stroke="#000" stroke-width="2.9"/>
<text x="586.5" y="641.0" font-family="Liberation Sans" font-size="23.6" font-style="italic" font-weight="normal" textLength="37.0" lengthAdjust="spacingAndGlyphs" stroke="#000" stroke-width="0.9">100</text>
<text x="653.5" y="641.0" font-family="Liberation Sans" font-size="23.6" font-style="italic" font-weight="normal" textLength="36.0" lengthAdjust="spacingAndGlyphs" stroke="#000" stroke-width="0.9">100</text>
<polyline points="514.5,707.5 944.0,706.0" fill="none" stroke="#000" stroke-width="2.9" stroke-linejoin="miter" stroke-linecap="butt"/>
<circle cx="652.5" cy="707.5" r="4.3" fill="#000"/>
<path d="M730.5,707 Q741,726 751,707" fill="none" stroke="#000" stroke-width="3" stroke-linecap="round" stroke-linejoin="round"/>
<circle cx="741.5" cy="716" r="3.8" fill="#000"/>
<polyline points="741.5,716.0 741.5,728.0" fill="none" stroke="#000" stroke-width="3" stroke-linejoin="miter" stroke-linecap="butt"/>
<rect x="724" y="725.2" width="34" height="7.5" rx="3.8" fill="#000"/>
<path d="M735,699.5 Q739,697 743,697.5 M746,699 L749,702" fill="none" stroke="#000" stroke-width="2.4" stroke-linecap="round" stroke-linejoin="round"/>
<polyline points="950.0,142.0 952.0,557.0" fill="none" stroke="#000" stroke-width="2.9" stroke-linejoin="miter" stroke-linecap="butt"/>
<polyline points="773.0,556.0 952.0,557.0" fill="none" stroke="#000" stroke-width="2.9" stroke-linejoin="miter" stroke-linecap="butt"/>
<circle cx="952" cy="557" r="4.5" fill="#000"/>
<polyline points="773.0,556.0 773.0,922.0 786.0,936.0" fill="none" stroke="#000" stroke-width="2.9" stroke-linejoin="miter" stroke-linecap="butt"/>
<path d="M954.90,556.50 L955.89,556.79 L956.87,557.15 L957.84,557.57 L958.79,558.05 L959.72,558.59 L960.62,559.20 L961.48,559.86 L962.31,560.58 L963.08,561.34 L963.81,562.16 L964.48,563.03 L965.09,563.93 L965.64,564.88 L966.13,565.86 L966.54,566.86 L966.88,567.90 L967.15,568.95 L967.34,570.01 L967.46,571.09 L967.50,572.17 L967.46,573.26 L967.34,574.34 L967.15,575.40 L966.88,576.45 L966.54,577.49 L966.13,578.49 L965.64,579.47 L965.09,580.42 L964.48,581.32 L963.81,582.19 L963.08,583.01 L962.31,583.77 L961.48,584.49 L960.62,585.15 L959.72,585.76 L958.79,586.30 L957.84,586.78 L956.87,587.20 L955.89,587.56 L954.90,587.85 L953.91,588.08 L952.93,588.24 L951.96,588.34 L951.01,588.37 L950.08,588.34 L949.18,588.26 L948.32,588.11 L947.49,587.91 L946.72,587.66 L945.99,587.36 L945.32,587.02 L944.71,586.63 L944.16,586.20 L943.67,585.74 L943.26,585.25 L942.92,584.73 L942.65,584.20 L942.46,583.65 L942.34,583.09 L942.30,582.52 L942.34,581.96 L942.46,581.40 L942.65,580.85 L942.92,580.32 L943.26,579.80 L943.67,579.31 L944.16,578.85 L944.71,578.42 L945.32,578.03 L945.99,577.69 L946.72,577.39 L947.49,577.14 L948.32,576.94 L949.18,576.79 L950.08,576.71 L951.01,576.68 L951.96,576.71 L952.93,576.81 L953.91,576.97 L954.90,577.20 L955.89,577.49 L956.87,577.85 L957.84,578.27 L958.79,578.75 L959.72,579.29 L960.62,579.90 L961.48,580.56 L962.31,581.28 L963.08,582.04 L963.81,582.86 L964.48,583.73 L965.09,584.63 L965.64,585.58 L966.13,586.56 L966.54,587.56 L966.88,588.60 L967.15,589.65 L967.34,590.71 L967.46,591.79 L967.50,592.88 L967.46,593.96 L967.34,595.04 L967.15,596.10 L966.88,597.15 L966.54,598.19 L966.13,599.19 L965.64,600.17 L965.09,601.12 L964.48,602.02 L963.81,602.89 L963.08,603.71 L962.31,604.47 L961.48,605.19 L960.62,605.85 L959.72,606.46 L958.79,607.00 L957.84,607.48 L956.87,607.90 L955.89,608.26 L954.90,608.55 L953.91,608.78 L952.93,608.94 L951.96,609.04 L951.01,609.07 L950.08,609.04 L949.18,608.96 L948.32,608.81 L947.49,608.61 L946.72,608.36 L945.99,608.06 L945.32,607.72 L944.71,607.33 L944.16,606.90 L943.67,606.44 L943.26,605.95 L942.92,605.43 L942.65,604.90 L942.46,604.35 L942.34,603.79 L942.30,603.23 L942.34,602.66 L942.46,602.10 L942.65,601.55 L942.92,601.02 L943.26,600.50 L943.67,600.01 L944.16,599.55 L944.71,599.12 L945.32,598.73 L945.99,598.39 L946.72,598.09 L947.49,597.84 L948.32,597.64 L949.18,597.49 L950.08,597.41 L951.01,597.38 L951.96,597.41 L952.93,597.51 L953.91,597.67 L954.90,597.90 L955.89,598.19 L956.87,598.55 L957.84,598.97 L958.79,599.45 L959.72,599.99 L960.62,600.60 L961.48,601.26 L962.31,601.98 L963.08,602.74 L963.81,603.56 L964.48,604.43 L965.09,605.33 L965.64,606.28 L966.13,607.26 L966.54,608.26 L966.88,609.30 L967.15,610.35 L967.34,611.41 L967.46,612.49 L967.50,613.58 L967.46,614.66 L967.34,615.74 L967.15,616.80 L966.88,617.85 L966.54,618.89 L966.13,619.89 L965.64,620.87 L965.09,621.82 L964.48,622.72 L963.81,623.59 L963.08,624.41 L962.31,625.17 L961.48,625.89 L960.62,626.55 L959.72,627.16 L958.79,627.70 L957.84,628.18 L956.87,628.60 L955.89,628.96 L954.90,629.25 L953.91,629.48 L952.93,629.64 L951.96,629.74 L951.01,629.77 L950.08,629.74 L949.18,629.66 L948.32,629.51 L947.49,629.31 L946.72,629.06 L945.99,628.76 L945.32,628.42 L944.71,628.03 L944.16,627.60 L943.67,627.14 L943.26,626.65 L942.92,626.13 L942.65,625.60 L942.46,625.05 L942.34,624.49 L942.30,623.92 L942.34,623.36 L942.46,622.80 L942.65,622.25 L942.92,621.72 L943.26,621.20 L943.67,620.71 L944.16,620.25 L944.71,619.82 L945.32,619.43 L945.99,619.09 L946.72,618.79 L947.49,618.54 L948.32,618.34 L949.18,618.19 L950.08,618.11 L951.01,618.08 L951.96,618.11 L952.93,618.21 L953.91,618.37 L954.90,618.60 L955.89,618.89 L956.87,619.25 L957.84,619.67 L958.79,620.15 L959.72,620.69 L960.62,621.30 L961.48,621.96 L962.31,622.68 L963.08,623.44 L963.81,624.26 L964.48,625.13 L965.09,626.03 L965.64,626.98 L966.13,627.96 L966.54,628.96 L966.88,630.00 L967.15,631.05 L967.34,632.11 L967.46,633.19 L967.50,634.27 L967.46,635.36 L967.34,636.44 L967.15,637.50 L966.88,638.55 L966.54,639.59 L966.13,640.59 L965.64,641.57 L965.09,642.52 L964.48,643.42 L963.81,644.29 L963.08,645.11 L962.31,645.87 L961.48,646.59 L960.62,647.25 L959.72,647.86 L958.79,648.40 L957.84,648.88 L956.87,649.30 L955.89,649.66 L954.90,649.95 L953.91,650.18 L952.93,650.34 L951.96,650.44 L951.01,650.47 L950.08,650.44 L949.18,650.36 L948.32,650.21 L947.49,650.01 L946.72,649.76 L945.99,649.46 L945.32,649.12 L944.71,648.73 L944.16,648.30 L943.67,647.84 L943.26,647.35 L942.92,646.83 L942.65,646.30 L942.46,645.75 L942.34,645.19 L942.30,644.62 L942.34,644.06 L942.46,643.50 L942.65,642.95 L942.92,642.42 L943.26,641.90 L943.67,641.41 L944.16,640.95 L944.71,640.52 L945.32,640.13 L945.99,639.79 L946.72,639.49 L947.49,639.24 L948.32,639.04 L949.18,638.89 L950.08,638.81 L951.01,638.78 L951.96,638.81 L952.93,638.91 L953.91,639.07 L954.90,639.30 L955.89,639.59 L956.87,639.95 L957.84,640.37 L958.79,640.85 L959.72,641.39 L960.62,642.00 L961.48,642.66 L962.31,643.38 L963.08,644.14 L963.81,644.96 L964.48,645.83 L965.09,646.73 L965.64,647.68 L966.13,648.66 L966.54,649.66 L966.88,650.70 L967.15,651.75 L967.34,652.81 L967.46,653.89 L967.50,654.98 L967.46,656.06 L967.34,657.14 L967.15,658.20 L966.88,659.25 L966.54,660.29 L966.13,661.29 L965.64,662.27 L965.09,663.22 L964.48,664.12 L963.81,664.99 L963.08,665.81 L962.31,666.57 L961.48,667.29 L960.62,667.95 L959.72,668.56 L958.79,669.10 L957.84,669.58 L956.87,670.00 L955.89,670.36 L954.90,670.65 L953.91,670.88 L952.93,671.04 L951.96,671.14 L951.01,671.17 L950.08,671.14 L949.18,671.06 L948.32,670.91 L947.49,670.71 L946.72,670.46 L945.99,670.16 L945.32,669.82 L944.71,669.43 L944.16,669.00 L943.67,668.54 L943.26,668.05 L942.92,667.53 L942.65,667.00 L942.46,666.45 L942.34,665.89 L942.30,665.33 L942.34,664.76 L942.46,664.20 L942.65,663.65 L942.92,663.12 L943.26,662.60 L943.67,662.11 L944.16,661.65 L944.71,661.22 L945.32,660.83 L945.99,660.49 L946.72,660.19 L947.49,659.94 L948.32,659.74 L949.18,659.59 L950.08,659.51 L951.01,659.48 L951.96,659.51 L952.93,659.61 L953.91,659.77 L954.90,660.00 L955.89,660.29 L956.87,660.65 L957.84,661.07 L958.79,661.55 L959.72,662.09 L960.62,662.70 L961.48,663.36 L962.31,664.08 L963.08,664.84 L963.81,665.66 L964.48,666.53 L965.09,667.43 L965.64,668.38 L966.13,669.36 L966.54,670.36 L966.88,671.40 L967.15,672.45 L967.34,673.51 L967.46,674.59 L967.50,675.67 L967.46,676.76 L967.34,677.84 L967.15,678.90 L966.88,679.95 L966.54,680.99 L966.13,681.99 L965.64,682.97 L965.09,683.92 L964.48,684.82 L963.81,685.69 L963.08,686.51 L962.31,687.27 L961.48,687.99 L960.62,688.65 L959.72,689.26 L958.79,689.80 L957.84,690.28 L956.87,690.70 L955.89,691.06 L954.90,691.35 L953.91,691.58 L952.93,691.74 L951.96,691.84 L951.01,691.87 L950.08,691.84 L949.18,691.76 L948.32,691.61 L947.49,691.41 L946.72,691.16 L945.99,690.86 L945.32,690.52 L944.71,690.13 L944.16,689.70 L943.67,689.24 L943.26,688.75 L942.92,688.23 L942.65,687.70 L942.46,687.15 L942.34,686.59 L942.30,686.03 L942.34,685.46 L942.46,684.90 L942.65,684.35 L942.92,683.82 L943.26,683.30 L943.67,682.81 L944.16,682.35 L944.71,681.92 L945.32,681.53 L945.99,681.19 L946.72,680.89 L947.49,680.64 L948.32,680.44 L949.18,680.29 L950.08,680.21 L951.01,680.18 L951.96,680.21 L952.93,680.31 L953.91,680.47 L954.90,680.70 L955.89,680.99 L956.87,681.35 L957.84,681.77 L958.79,682.25 L959.72,682.79 L960.62,683.40 L961.48,684.06 L962.31,684.78 L963.08,685.54 L963.81,686.36 L964.48,687.23 L965.09,688.13 L965.64,689.08 L966.13,690.06 L966.54,691.06 L966.88,692.10 L967.15,693.15 L967.34,694.21 L967.46,695.29 L967.50,696.38 L967.46,697.46 L967.34,698.54 L967.15,699.60 L966.88,700.65 L966.54,701.69 L966.13,702.69 L965.64,703.67 L965.09,704.62 L964.48,705.52 L963.81,706.39 L963.08,707.21 L962.31,707.97 L961.48,708.69 L960.62,709.35 L959.72,709.96 L958.79,710.50 L957.84,710.98 L956.87,711.40 L955.89,711.76 L954.90,712.05 L953.91,712.28 L952.93,712.44 L951.96,712.54 L951.01,712.57 L950.08,712.54 L949.18,712.46 L948.32,712.31 L947.49,712.11 L946.72,711.86 L945.99,711.56 L945.32,711.22 L944.71,710.83 L944.16,710.40 L943.67,709.94 L943.26,709.45 L942.92,708.93 L942.65,708.40 L942.46,707.85 L942.34,707.29 L942.30,706.73 L942.34,706.16 L942.46,705.60 L942.65,705.05 L942.92,704.52 L943.26,704.00 L943.67,703.51 L944.16,703.05 L944.71,702.62 L945.32,702.23 L945.99,701.89 L946.72,701.59 L947.49,701.34 L948.32,701.14 L949.18,700.99 L950.08,700.91 L951.01,700.88 L951.96,700.91 L952.93,701.01 L953.91,701.17 L954.90,701.40 L955.89,701.69 L956.87,702.05 L957.84,702.47 L958.79,702.95 L959.72,703.49 L960.62,704.10 L961.48,704.76 L962.31,705.48 L963.08,706.24 L963.81,707.06 L964.48,707.93 L965.09,708.83 L965.64,709.78 L966.13,710.76 L966.54,711.76 L966.88,712.80 L967.15,713.85 L967.34,714.91 L967.46,715.99 L967.50,717.08 L967.46,718.16 L967.34,719.24 L967.15,720.30 L966.88,721.35 L966.54,722.39 L966.13,723.39 L965.64,724.37 L965.09,725.32 L964.48,726.22 L963.81,727.09 L963.08,727.91 L962.31,728.67 L961.48,729.39 L960.62,730.05 L959.72,730.66 L958.79,731.20 L957.84,731.68 L956.87,732.10 L955.89,732.46 L954.90,732.75 L953.91,732.98 L952.93,733.14 L951.96,733.24 L951.01,733.27 L950.08,733.24 L949.18,733.16 L948.32,733.01 L947.49,732.81 L946.72,732.56 L945.99,732.26 L945.32,731.92 L944.71,731.53 L944.16,731.10 L943.67,730.64 L943.26,730.15 L942.92,729.63 L942.65,729.10 L942.46,728.55 L942.34,727.99 L942.30,727.42 L942.34,726.86 L942.46,726.30 L942.65,725.75 L942.92,725.22 L943.26,724.70 L943.67,724.21 L944.16,723.75 L944.71,723.32 L945.32,722.93 L945.99,722.59 L946.72,722.29 L947.49,722.04 L948.32,721.84 L949.18,721.69 L950.08,721.61 L951.01,721.58 L951.96,721.61 L952.93,721.71 L953.91,721.87 L954.90,722.10 L955.89,722.39 L956.87,722.75 L957.84,723.17 L958.79,723.65 L959.72,724.19 L960.62,724.80 L961.48,725.46 L962.31,726.18 L963.08,726.94 L963.81,727.76 L964.48,728.63 L965.09,729.53 L965.64,730.48 L966.13,731.46 L966.54,732.46 L966.88,733.50 L967.15,734.55 L967.34,735.61 L967.46,736.69 L967.50,737.78 L967.46,738.86 L967.34,739.94 L967.15,741.00 L966.88,742.05 L966.54,743.09 L966.13,744.09 L965.64,745.07 L965.09,746.02 L964.48,746.92 L963.81,747.79 L963.08,748.61 L962.31,749.37 L961.48,750.09 L960.62,750.75 L959.72,751.36 L958.79,751.90 L957.84,752.38 L956.87,752.80 L955.89,753.16 L954.90,753.45" fill="none" stroke="#000" stroke-width="2.8" stroke-linecap="round" stroke-linejoin="round"/>
<path d="M954.9,753.5 L867.5,752.5 L867.5,925 L854,939" fill="none" stroke="#000" stroke-width="2.9" stroke-linecap="round" stroke-linejoin="round"/>
<polyline points="910.0,644.0 944.0,644.0" fill="none" stroke="#000" stroke-width="2.9" stroke-linejoin="miter" stroke-linecap="butt"/>
<polyline points="910.0,644.0 913.0,1674.0" fill="none" stroke="#000" stroke-width="2.9" stroke-linejoin="miter" stroke-linecap="butt"/>
<path d="M930,644 L944,639 L944,649 Z" fill="#000" stroke="none"/>
<path d="M930,706 L944,701 L944,711 Z" fill="#000" stroke="none"/>
<rect x="976.0" y="555" width="9" height="200.5" rx="4.5" fill="#000"/>
<path d="M1004.00,596.60 L1003.06,596.89 L1002.12,597.25 L1001.20,597.67 L1000.29,598.16 L999.41,598.71 L998.55,599.31 L997.73,599.98 L996.95,600.70 L996.21,601.47 L995.51,602.29 L994.88,603.15 L994.29,604.06 L993.77,605.01 L993.31,605.99 L992.91,607.00 L992.59,608.04 L992.33,609.09 L992.15,610.16 L992.04,611.24 L992.00,612.33 L992.04,613.41 L992.15,614.49 L992.33,615.56 L992.59,616.61 L992.91,617.65 L993.31,618.66 L993.77,619.64 L994.29,620.59 L994.88,621.50 L995.51,622.36 L996.21,623.18 L996.95,623.95 L997.73,624.67 L998.55,625.34 L999.41,625.94 L1000.29,626.49 L1001.20,626.98 L1002.12,627.40 L1003.06,627.76 L1004.00,628.05 L1004.94,628.28 L1005.88,628.44 L1006.80,628.54 L1007.71,628.58 L1008.59,628.56 L1009.45,628.47 L1010.27,628.33 L1011.05,628.13 L1011.79,627.89 L1012.49,627.59 L1013.12,627.24 L1013.71,626.86 L1014.23,626.43 L1014.69,625.97 L1015.09,625.49 L1015.41,624.97 L1015.67,624.44 L1015.85,623.90 L1015.96,623.34 L1016.00,622.77 L1015.96,622.21 L1015.85,621.65 L1015.67,621.11 L1015.41,620.58 L1015.09,620.06 L1014.69,619.58 L1014.23,619.12 L1013.71,618.69 L1013.12,618.31 L1012.49,617.96 L1011.79,617.66 L1011.05,617.42 L1010.27,617.22 L1009.45,617.08 L1008.59,616.99 L1007.71,616.97 L1006.80,617.01 L1005.88,617.11 L1004.94,617.27 L1004.00,617.50 L1003.06,617.79 L1002.12,618.15 L1001.20,618.57 L1000.29,619.06 L999.41,619.61 L998.55,620.21 L997.73,620.88 L996.95,621.60 L996.21,622.37 L995.51,623.19 L994.88,624.05 L994.29,624.96 L993.77,625.91 L993.31,626.89 L992.91,627.90 L992.59,628.94 L992.33,629.99 L992.15,631.06 L992.04,632.14 L992.00,633.23 L992.04,634.31 L992.15,635.39 L992.33,636.46 L992.59,637.51 L992.91,638.55 L993.31,639.56 L993.77,640.54 L994.29,641.49 L994.88,642.40 L995.51,643.26 L996.21,644.08 L996.95,644.85 L997.73,645.57 L998.55,646.24 L999.41,646.84 L1000.29,647.39 L1001.20,647.88 L1002.12,648.30 L1003.06,648.66 L1004.00,648.95 L1004.94,649.18 L1005.88,649.34 L1006.80,649.44 L1007.71,649.48 L1008.59,649.46 L1009.45,649.37 L1010.27,649.23 L1011.05,649.03 L1011.79,648.79 L1012.49,648.49 L1013.12,648.14 L1013.71,647.76 L1014.23,647.33 L1014.69,646.87 L1015.09,646.39 L1015.41,645.87 L1015.67,645.34 L1015.85,644.80 L1015.96,644.24 L1016.00,643.68 L1015.96,643.11 L1015.85,642.55 L1015.67,642.01 L1015.41,641.48 L1015.09,640.96 L1014.69,640.48 L1014.23,640.02 L1013.71,639.59 L1013.12,639.21 L1012.49,638.86 L1011.79,638.56 L1011.05,638.32 L1010.27,638.12 L1009.45,637.98 L1008.59,637.89 L1007.71,637.87 L1006.80,637.91 L1005.88,638.01 L1004.94,638.17 L1004.00,638.40 L1003.06,638.69 L1002.12,639.05 L1001.20,639.47 L1000.29,639.96 L999.41,640.51 L998.55,641.11 L997.73,641.78 L996.95,642.50 L996.21,643.27 L995.51,644.09 L994.88,644.95 L994.29,645.86 L993.77,646.81 L993.31,647.79 L992.91,648.80 L992.59,649.84 L992.33,650.89 L992.15,651.96 L992.04,653.04 L992.00,654.12 L992.04,655.21 L992.15,656.29 L992.33,657.36 L992.59,658.41 L992.91,659.45 L993.31,660.46 L993.77,661.44 L994.29,662.39 L994.88,663.30 L995.51,664.16 L996.21,664.98 L996.95,665.75 L997.73,666.47 L998.55,667.14 L999.41,667.74 L1000.29,668.29 L1001.20,668.78 L1002.12,669.20 L1003.06,669.56 L1004.00,669.85 L1004.94,670.08 L1005.88,670.24 L1006.80,670.34 L1007.71,670.38 L1008.59,670.36 L1009.45,670.27 L1010.27,670.13 L1011.05,669.93 L1011.79,669.69 L1012.49,669.39 L1013.12,669.04 L1013.71,668.66 L1014.23,668.23 L1014.69,667.77 L1015.09,667.29 L1015.41,666.77 L1015.67,666.24 L1015.85,665.70 L1015.96,665.14 L1016.00,664.58 L1015.96,664.01 L1015.85,663.45 L1015.67,662.91 L1015.41,662.38 L1015.09,661.86 L1014.69,661.38 L1014.23,660.92 L1013.71,660.49 L1013.12,660.11 L1012.49,659.76 L1011.79,659.46 L1011.05,659.22 L1010.27,659.02 L1009.45,658.88 L1008.59,658.79 L1007.71,658.77 L1006.80,658.81 L1005.88,658.91 L1004.94,659.07 L1004.00,659.30 L1003.06,659.59 L1002.12,659.95 L1001.20,660.37 L1000.29,660.86 L999.41,661.41 L998.55,662.01 L997.73,662.68 L996.95,663.40 L996.21,664.17 L995.51,664.99 L994.88,665.85 L994.29,666.76 L993.77,667.71 L993.31,668.69 L992.91,669.70 L992.59,670.74 L992.33,671.79 L992.15,672.86 L992.04,673.94 L992.00,675.02 L992.04,676.11 L992.15,677.19 L992.33,678.26 L992.59,679.31 L992.91,680.35 L993.31,681.36 L993.77,682.34 L994.29,683.29 L994.88,684.20 L995.51,685.06 L996.21,685.88 L996.95,686.65 L997.73,687.37 L998.55,688.04 L999.41,688.64 L1000.29,689.19 L1001.20,689.68 L1002.12,690.10 L1003.06,690.46 L1004.00,690.75 L1004.94,690.98 L1005.88,691.14 L1006.80,691.24 L1007.71,691.28 L1008.59,691.26 L1009.45,691.17 L1010.27,691.03 L1011.05,690.83 L1011.79,690.59 L1012.49,690.29 L1013.12,689.94 L1013.71,689.56 L1014.23,689.13 L1014.69,688.67 L1015.09,688.19 L1015.41,687.67 L1015.67,687.14 L1015.85,686.60 L1015.96,686.04 L1016.00,685.48 L1015.96,684.91 L1015.85,684.35 L1015.67,683.81 L1015.41,683.28 L1015.09,682.76 L1014.69,682.28 L1014.23,681.82 L1013.71,681.39 L1013.12,681.01 L1012.49,680.66 L1011.79,680.36 L1011.05,680.12 L1010.27,679.92 L1009.45,679.78 L1008.59,679.69 L1007.71,679.67 L1006.80,679.71 L1005.88,679.81 L1004.94,679.97 L1004.00,680.20 L1003.06,680.49 L1002.12,680.85 L1001.20,681.27 L1000.29,681.76 L999.41,682.31 L998.55,682.91 L997.73,683.58 L996.95,684.30 L996.21,685.07 L995.51,685.89 L994.88,686.75 L994.29,687.66 L993.77,688.61 L993.31,689.59 L992.91,690.60 L992.59,691.64 L992.33,692.69 L992.15,693.76 L992.04,694.84 L992.00,695.92 L992.04,697.01 L992.15,698.09 L992.33,699.16 L992.59,700.21 L992.91,701.25 L993.31,702.26 L993.77,703.24 L994.29,704.19 L994.88,705.10 L995.51,705.96 L996.21,706.78 L996.95,707.55 L997.73,708.27 L998.55,708.94 L999.41,709.54 L1000.29,710.09 L1001.20,710.58 L1002.12,711.00 L1003.06,711.36 L1004.00,711.65" fill="none" stroke="#000" stroke-width="2.8" stroke-linecap="round" stroke-linejoin="round"/>
<polyline points="1004.0,596.6 1034.0,596.6" fill="none" stroke="#000" stroke-width="2.9" stroke-linejoin="miter" stroke-linecap="butt"/>
<polyline points="1004.0,711.6 1184.5,709.0" fill="none" stroke="#000" stroke-width="2.9" stroke-linejoin="miter" stroke-linecap="butt"/>
<circle cx="1033.5" cy="596.6" r="5" fill="#000"/>
<polyline points="1032.0,434.0 1034.0,1674.0" fill="none" stroke="#000" stroke-width="2.9" stroke-linejoin="miter" stroke-linecap="butt"/>
<polyline points="1062.0,596.0 1094.0,596.0" fill="none" stroke="#000" stroke-width="2.9" stroke-linejoin="miter" stroke-linecap="butt"/>
<polyline points="1062.0,596.0 1065.3,1533.0" fill="none" stroke="#000" stroke-width="2.9" stroke-linejoin="miter" stroke-linecap="butt"/>
<line x1="1065.5" y1="1533" x2="1066" y2="1673" stroke="#000" stroke-width="2.2" stroke-dasharray="5,9"/>
<circle cx="817.5" cy="974" r="43.5" fill="none" stroke="#000" stroke-width="8.5"/>
<polyline points="795.0,965.0 813.0,949.0" fill="none" stroke="#000" stroke-width="7" stroke-linejoin="miter" stroke-linecap="round"/>
<polyline points="827.0,949.0 845.0,966.0" fill="none" stroke="#000" stroke-width="7" stroke-linejoin="miter" stroke-linecap="round"/>
<polyline points="786.0,936.0 804.0,957.0" fill="none" stroke="#000" stroke-width="2.9" stroke-linejoin="miter" stroke-linecap="butt"/>
<polyline points="854.0,939.0 836.0,957.0" fill="none" stroke="#000" stroke-width="2.9" stroke-linejoin="miter" stroke-linecap="butt"/>
<path d="M801,994 Q818,979 837,995" fill="none" stroke="#000" stroke-width="5.5" stroke-linecap="round" stroke-linejoin="round"/>
<path d="M799,1007 C801,989 835,989 837,1007" fill="none" stroke="#000" stroke-width="2.8" stroke-linecap="round" stroke-linejoin="round"/>
<polyline points="797.5,1013.0 797.0,1052.0" fill="none" stroke="#000" stroke-width="2.9" stroke-linejoin="miter" stroke-linecap="butt"/>
<path d="M793.0,1052 Q797,1047 801.0,1052 L800.2,1060 L797.8,1067 L796.2,1067 L793.8,1060 Z" fill="#000" stroke="none"/>
<polyline points="836.0,1013.0 836.0,1052.0" fill="none" stroke="#000" stroke-width="2.9" stroke-linejoin="miter" stroke-linecap="butt"/>
<path d="M832.0,1052 Q836,1047 840.0,1052 L839.2,1060 L836.8,1067 L835.2,1067 L832.8,1060 Z" fill="#000" stroke="none"/>
<circle cx="836" cy="1032.5" r="4.5" fill="#000"/>
<polyline points="836.0,1032.5 892.5,1032.5 892.5,1674.0" fill="none" stroke="#000" stroke-width="2.9" stroke-linejoin="miter" stroke-linecap="butt"/>
<text x="795.5" y="1091.0" font-family="Liberation Sans" font-size="22.6" font-style="italic" font-weight="normal" textLength="11.0" lengthAdjust="spacingAndGlyphs" stroke="#000" stroke-width="0.9">e</text>
<text x="836.5" y="1091.0" font-family="Liberation Sans" font-size="23.6" font-style="italic" font-weight="normal" textLength="9.0" lengthAdjust="spacingAndGlyphs" stroke="#000" stroke-width="0.5">f</text>
<rect x="844.2" y="782" width="7.5" height="29" rx="3.8" fill="#000"/>
<polyline points="851.0,797.0 858.0,797.0" fill="none" stroke="#000" stroke-width="2.9" stroke-linejoin="miter" stroke-linecap="butt"/>
<path d="M862,790 A7,7 0 0,1 862,805" fill="none" stroke="#000" stroke-width="2.4" stroke-linecap="round" stroke-linejoin="round"/>
<polyline points="1094.0,554.0 1207.0,554.0" fill="none" stroke="#000" stroke-width="2.9" stroke-linejoin="miter" stroke-linecap="butt"/>
<path d="M1223,540 A15.5,15.5 0 0,0 1223,571" fill="none" stroke="#000" stroke-width="3.3" stroke-linecap="round" stroke-linejoin="round"/>
<path d="M1223,743 A15.5,15.5 0 0,0 1223,773" fill="none" stroke="#000" stroke-width="3.3" stroke-linecap="round" stroke-linejoin="round"/>
<polyline points="1094.0,757.5 1207.0,757.5" fill="none" stroke="#000" stroke-width="2.9" stroke-linejoin="miter" stroke-linecap="butt"/>
<polyline points="1165.0,546.0 1168.0,539.0" fill="none" stroke="#000" stroke-width="2.2" stroke-linejoin="miter" stroke-linecap="butt"/>
<circle cx="1094" cy="596.5" r="5.5" fill="#000"/>
<polyline points="1094.0,596.0 1133.0,585.0" fill="none" stroke="#000" stroke-width="6" stroke-linejoin="miter" stroke-linecap="round"/>
<circle cx="1133" cy="586" r="4.6" fill="#000"/>
<polyline points="1133.0,587.0 1184.5,587.0 1184.5,624.0" fill="none" stroke="#000" stroke-width="2.9" stroke-linejoin="miter" stroke-linecap="butt"/>
<circle cx="1134" cy="601" r="5" fill="#000"/>
<polyline points="1134.0,601.0 1134.0,626.0" fill="none" stroke="#000" stroke-width="2.9" stroke-linejoin="miter" stroke-linecap="butt"/>
<rect x="1125.5" y="627.2" width="18.1" height="60.4" rx="2.5" fill="#fff" stroke="#000" stroke-width="2.9"/>
<polyline points="1134.0,689.0 1134.0,710.0" fill="none" stroke="#000" stroke-width="2.9" stroke-linejoin="miter" stroke-linecap="butt"/>
<circle cx="1134" cy="710" r="5.5" fill="#000"/>
<circle cx="1094" cy="710" r="3.5" fill="#000"/>
<circle cx="1094" cy="757.5" r="3.3" fill="#000"/>
<rect x="1079" y="646.5" width="30" height="7" rx="3.5" fill="#000"/>
<rect x="1079" y="658.0" width="30" height="7" rx="3.5" fill="#000"/>
<text x="1062.5" y="694.0" font-family="Liberation Sans" font-size="26.4" font-style="italic" font-weight="normal" textLength="47.0" lengthAdjust="spacingAndGlyphs" stroke="#000" stroke-width="0.9">50T</text>
<rect x="1176.5" y="626.2" width="49.1" height="52.4" rx="2.5" fill="#fff" stroke="#000" stroke-width="2.9"/>
<rect x="1222.5" y="620" width="7" height="59" rx="3.5" fill="#000"/>
<polyline points="1226.0,620.0 1246.0,604.0" fill="none" stroke="#000" stroke-width="2.9" stroke-linejoin="miter" stroke-linecap="butt"/>
<polyline points="1226.0,678.0 1246.0,696.0" fill="none" stroke="#000" stroke-width="2.9" stroke-linejoin="miter" stroke-linecap="butt"/>
<polyline points="1249.0,604.0 1249.0,696.0" fill="none" stroke="#000" stroke-width="2.9" stroke-linejoin="miter" stroke-linecap="butt"/>
<rect x="1246.8" y="606" width="4.5" height="16" rx="2.2" fill="#000"/>
<polyline points="1184.5,680.0 1184.5,709.0" fill="none" stroke="#000" stroke-width="2.9" stroke-linejoin="miter" stroke-linecap="butt"/>
<polyline points="1212.0,680.0 1212.0,703.0" fill="none" stroke="#000" stroke-width="2.9" stroke-linejoin="miter" stroke-linecap="butt"/>
<rect x="1198" y="699.5" width="24" height="7" rx="3.5" fill="#000"/>
<text x="1147.5" y="736.0" font-family="Liberation Sans" font-size="29.7" font-style="italic" font-weight="normal" textLength="45.0" lengthAdjust="spacingAndGlyphs" stroke="#000" stroke-width="1.5">80/4</text>
<circle cx="631" cy="1175" r="5" fill="#000"/>
<circle cx="792.5" cy="1175" r="4.5" fill="#000"/>
<polyline points="631.0,1121.0 679.0,1121.0" fill="none" stroke="#000" stroke-width="2.9" stroke-linejoin="miter" stroke-linecap="butt"/>
<rect x="680.5" y="1112.5" width="62.1" height="20.1" rx="2.5" fill="#fff" stroke="#000" stroke-width="2.9"/>
<polyline points="744.0,1121.0 792.5,1121.0 792.5,1175.0" fill="none" stroke="#000" stroke-width="2.9" stroke-linejoin="miter" stroke-linecap="butt"/>
<polyline points="631.0,1121.0 631.0,1175.0" fill="none" stroke="#000" stroke-width="2.9" stroke-linejoin="miter" stroke-linecap="butt"/>
<path d="M648.60,1171.00 L648.89,1170.14 L649.23,1169.28 L649.63,1168.43 L650.08,1167.60 L650.59,1166.79 L651.14,1166.01 L651.75,1165.25 L652.40,1164.53 L653.10,1163.86 L653.84,1163.22 L654.61,1162.64 L655.43,1162.10 L656.28,1161.62 L657.15,1161.20 L658.06,1160.84 L658.98,1160.54 L659.92,1160.30 L660.87,1160.14 L661.83,1160.03 L662.80,1160.00 L663.77,1160.03 L664.73,1160.14 L665.68,1160.30 L666.62,1160.54 L667.54,1160.84 L668.45,1161.20 L669.32,1161.62 L670.17,1162.10 L670.99,1162.64 L671.76,1163.22 L672.50,1163.86 L673.20,1164.53 L673.85,1165.25 L674.46,1166.01 L675.01,1166.79 L675.52,1167.60 L675.97,1168.43 L676.37,1169.28 L676.71,1170.14 L677.00,1171.00 L677.23,1171.86 L677.41,1172.72 L677.53,1173.57 L677.60,1174.40 L677.61,1175.21 L677.58,1175.99 L677.49,1176.75 L677.36,1177.47 L677.18,1178.14 L676.96,1178.78 L676.71,1179.36 L676.41,1179.90 L676.08,1180.38 L675.73,1180.80 L675.34,1181.16 L674.94,1181.46 L674.52,1181.70 L674.09,1181.86 L673.65,1181.97 L673.20,1182.00 L672.75,1181.97 L672.31,1181.86 L671.88,1181.70 L671.46,1181.46 L671.06,1181.16 L670.67,1180.80 L670.32,1180.38 L669.99,1179.90 L669.69,1179.36 L669.44,1178.78 L669.22,1178.14 L669.04,1177.47 L668.91,1176.75 L668.82,1175.99 L668.79,1175.21 L668.80,1174.40 L668.87,1173.57 L668.99,1172.72 L669.17,1171.86 L669.40,1171.00 L669.69,1170.14 L670.03,1169.28 L670.43,1168.43 L670.88,1167.60 L671.39,1166.79 L671.94,1166.01 L672.55,1165.25 L673.20,1164.53 L673.90,1163.86 L674.64,1163.22 L675.41,1162.64 L676.23,1162.10 L677.08,1161.62 L677.95,1161.20 L678.86,1160.84 L679.78,1160.54 L680.72,1160.30 L681.67,1160.14 L682.63,1160.03 L683.60,1160.00 L684.57,1160.03 L685.53,1160.14 L686.48,1160.30 L687.42,1160.54 L688.34,1160.84 L689.25,1161.20 L690.12,1161.62 L690.97,1162.10 L691.79,1162.64 L692.56,1163.22 L693.30,1163.86 L694.00,1164.53 L694.65,1165.25 L695.26,1166.01 L695.81,1166.79 L696.32,1167.60 L696.77,1168.43 L697.17,1169.28 L697.51,1170.14 L697.80,1171.00 L698.03,1171.86 L698.21,1172.72 L698.33,1173.57 L698.40,1174.40 L698.41,1175.21 L698.38,1175.99 L698.29,1176.75 L698.16,1177.47 L697.98,1178.14 L697.76,1178.78 L697.51,1179.36 L697.21,1179.90 L696.88,1180.38 L696.53,1180.80 L696.14,1181.16 L695.74,1181.46 L695.32,1181.70 L694.89,1181.86 L694.45,1181.97 L694.00,1182.00 L693.55,1181.97 L693.11,1181.86 L692.68,1181.70 L692.26,1181.46 L691.86,1181.16 L691.47,1180.80 L691.12,1180.38 L690.79,1179.90 L690.49,1179.36 L690.24,1178.78 L690.02,1178.14 L689.84,1177.47 L689.71,1176.75 L689.62,1175.99 L689.59,1175.21 L689.60,1174.40 L689.67,1173.57 L689.79,1172.72 L689.97,1171.86 L690.20,1171.00 L690.49,1170.14 L690.83,1169.28 L691.23,1168.43 L691.68,1167.60 L692.19,1166.79 L692.74,1166.01 L693.35,1165.25 L694.00,1164.53 L694.70,1163.86 L695.44,1163.22 L696.21,1162.64 L697.03,1162.10 L697.88,1161.62 L698.75,1161.20 L699.66,1160.84 L700.58,1160.54 L701.52,1160.30 L702.47,1160.14 L703.43,1160.03 L704.40,1160.00 L705.37,1160.03 L706.33,1160.14 L707.28,1160.30 L708.22,1160.54 L709.14,1160.84 L710.05,1161.20 L710.92,1161.62 L711.77,1162.10 L712.59,1162.64 L713.36,1163.22 L714.10,1163.86 L714.80,1164.53 L715.45,1165.25 L716.06,1166.01 L716.61,1166.79 L717.12,1167.60 L717.57,1168.43 L717.97,1169.28 L718.31,1170.14 L718.60,1171.00 L718.83,1171.86 L719.01,1172.72 L719.13,1173.57 L719.20,1174.40 L719.21,1175.21 L719.18,1175.99 L719.09,1176.75 L718.96,1177.47 L718.78,1178.14 L718.56,1178.78 L718.31,1179.36 L718.01,1179.90 L717.68,1180.38 L717.33,1180.80 L716.94,1181.16 L716.54,1181.46 L716.12,1181.70 L715.69,1181.86 L715.25,1181.97 L714.80,1182.00 L714.35,1181.97 L713.91,1181.86 L713.48,1181.70 L713.06,1181.46 L712.66,1181.16 L712.27,1180.80 L711.92,1180.38 L711.59,1179.90 L711.29,1179.36 L711.04,1178.78 L710.82,1178.14 L710.64,1177.47 L710.51,1176.75 L710.42,1175.99 L710.39,1175.21 L710.40,1174.40 L710.47,1173.57 L710.59,1172.72 L710.77,1171.86 L711.00,1171.00 L711.29,1170.14 L711.63,1169.28 L712.03,1168.43 L712.48,1167.60 L712.99,1166.79 L713.54,1166.01 L714.15,1165.25 L714.80,1164.53 L715.50,1163.86 L716.24,1163.22 L717.01,1162.64 L717.83,1162.10 L718.68,1161.62 L719.55,1161.20 L720.46,1160.84 L721.38,1160.54 L722.32,1160.30 L723.27,1160.14 L724.23,1160.03 L725.20,1160.00 L726.17,1160.03 L727.13,1160.14 L728.08,1160.30 L729.02,1160.54 L729.94,1160.84 L730.85,1161.20 L731.72,1161.62 L732.57,1162.10 L733.39,1162.64 L734.16,1163.22 L734.90,1163.86 L735.60,1164.53 L736.25,1165.25 L736.86,1166.01 L737.41,1166.79 L737.92,1167.60 L738.37,1168.43 L738.77,1169.28 L739.11,1170.14 L739.40,1171.00" fill="none" stroke="#000" stroke-width="2.8" stroke-linecap="round" stroke-linejoin="round"/>
<polyline points="646.0,1175.0 648.6,1171.0" fill="none" stroke="#000" stroke-width="2.9" stroke-linejoin="miter" stroke-linecap="butt"/>
<polyline points="739.4,1171.0 742.0,1175.0" fill="none" stroke="#000" stroke-width="2.9" stroke-linejoin="miter" stroke-linecap="butt"/>
<polyline points="742.0,1175.0 759.0,1175.0" fill="none" stroke="#000" stroke-width="2.9" stroke-linejoin="miter" stroke-linecap="butt"/>
<rect x="755.5" y="1158" width="7" height="29" rx="3.5" fill="#000"/>
<rect x="767.0" y="1158" width="7" height="29" rx="3.5" fill="#000"/>
<polyline points="771.0,1175.0 832.5,1175.0" fill="none" stroke="#000" stroke-width="2.9" stroke-linejoin="miter" stroke-linecap="butt"/>
<circle cx="832.5" cy="1175" r="5" fill="#000"/>
<polyline points="832.5,1175.0 865.4,1160.0" fill="none" stroke="#000" stroke-width="6" stroke-linejoin="miter" stroke-linecap="round"/>
<circle cx="869" cy="1175" r="4.5" fill="#000"/>
<polyline points="869.0,1174.5 1064.0,1172.5" fill="none" stroke="#000" stroke-width="2.9" stroke-linejoin="miter" stroke-linecap="butt"/>
<circle cx="1064" cy="1172.5" r="4.5" fill="#000"/>
<text x="814.5" y="1163.0" font-family="Liberation Sans" font-size="20.8" font-style="italic" font-weight="normal" textLength="12.0" lengthAdjust="spacingAndGlyphs" stroke="#000" stroke-width="1.5">c</text>
<text x="834.5" y="1151.0" font-family="Liberation Sans" font-size="34.7" font-style="italic" font-weight="normal" textLength="20.0" lengthAdjust="spacingAndGlyphs" stroke="#000" stroke-width="1.4">D</text>
<text x="859.5" y="1202.0" font-family="Liberation Sans" font-size="20.8" font-style="italic" font-weight="normal" textLength="21.0" lengthAdjust="spacingAndGlyphs" stroke="#000" stroke-width="1.5">10</text>
<text x="684.5" y="1105.0" font-family="Liberation Sans" font-size="24.3" font-style="italic" font-weight="normal" textLength="41.0" lengthAdjust="spacingAndGlyphs" stroke="#000" stroke-width="1.5">800</text>
<text x="751.5" y="1212.5" font-family="Liberation Sans" font-size="24.3" font-style="italic" font-weight="normal" textLength="47.0" lengthAdjust="spacingAndGlyphs" stroke="#000" stroke-width="0.9">25T</text>
<polyline points="832.5,1175.0 833.5,1234.0" fill="none" stroke="#000" stroke-width="2.9" stroke-linejoin="miter" stroke-linecap="butt"/>
<circle cx="834" cy="1234" r="5" fill="#000"/>
<rect x="786.5" y="1247.5" width="62.1" height="20.1" rx="2.5" fill="#fff" stroke="#000" stroke-width="2.9"/>
<polyline points="770.0,1257.5 785.0,1257.5" fill="none" stroke="#000" stroke-width="2.9" stroke-linejoin="miter" stroke-linecap="butt"/>
<circle cx="770" cy="1257.5" r="4.5" fill="#000"/>
<polyline points="796.0,1281.0 830.0,1242.0" fill="none" stroke="#000" stroke-width="2.9" stroke-linejoin="miter" stroke-linecap="butt"/>
<polyline points="790.5,1284.5 804.0,1273.0" fill="none" stroke="#000" stroke-width="7" stroke-linejoin="miter" stroke-linecap="round"/>
<text x="815.5" y="1296.0" font-family="Liberation Sans" font-size="23.6" font-style="italic" font-weight="normal" textLength="46.0" lengthAdjust="spacingAndGlyphs" stroke="#000" stroke-width="0.9">3,5k</text>
<circle cx="721" cy="1237.5" r="14.5" fill="none" stroke="#000" stroke-width="3"/>
<polyline points="711.0,1227.5 731.0,1247.5" fill="none" stroke="#000" stroke-width="2.6" stroke-linejoin="miter" stroke-linecap="butt"/>
<polyline points="731.0,1227.5 711.0,1247.5" fill="none" stroke="#000" stroke-width="2.6" stroke-linejoin="miter" stroke-linecap="butt"/>
<polyline points="672.5,1236.0 706.5,1237.0" fill="none" stroke="#000" stroke-width="2.9" stroke-linejoin="miter" stroke-linecap="butt"/>
<polyline points="735.5,1237.0 770.0,1237.0 770.0,1279.0 754.0,1279.0" fill="none" stroke="#000" stroke-width="2.9" stroke-linejoin="miter" stroke-linecap="butt"/>
<rect x="691.5" y="1270.5" width="61.1" height="17.1" rx="2.5" fill="#fff" stroke="#000" stroke-width="2.9"/>
<polyline points="669.0,1279.0 690.0,1279.0" fill="none" stroke="#000" stroke-width="2.9" stroke-linejoin="miter" stroke-linecap="butt"/>
<circle cx="669" cy="1279" r="5" fill="#000"/>
<text x="705.5" y="1315.0" font-family="Liberation Sans" font-size="22.2" font-style="italic" font-weight="normal" textLength="26.0" lengthAdjust="spacingAndGlyphs" stroke="#000" stroke-width="1.5">80</text>
<polyline points="631.0,1259.0 672.5,1235.0" fill="none" stroke="#000" stroke-width="6" stroke-linejoin="miter" stroke-linecap="round"/>
<circle cx="632" cy="1258.5" r="4.3" fill="#000"/>
<circle cx="670.5" cy="1236" r="4.5" fill="#000"/>
<text x="629.5" y="1232.5" font-family="Liberation Sans" font-size="32.6" font-style="italic" font-weight="bold" textLength="17.5" lengthAdjust="spacingAndGlyphs" stroke="#000" stroke-width="0.8">G</text>
<circle cx="462.5" cy="1416" r="4.3" fill="#000"/>
<polyline points="462.5,1416.0 511.0,1416.0 511.0,1454.0" fill="none" stroke="#000" stroke-width="2.9" stroke-linejoin="miter" stroke-linecap="butt"/>
<rect x="453.9" y="1434.0" width="19.6" height="63.6" rx="2.5" fill="#fff" stroke="#000" stroke-width="2.9"/>
<rect x="491.2" y="1454.8" width="41.0" height="5.5" rx="2.8" fill="#fff" stroke="#000" stroke-width="2.5"/>
<rect x="490" y="1467.0" width="43.5" height="8" rx="4.0" fill="#000"/>
<polyline points="511.0,1475.0 511.0,1519.0" fill="none" stroke="#000" stroke-width="2.9" stroke-linejoin="miter" stroke-linecap="butt"/>
<text x="399.5" y="1475.0" font-family="Liberation Sans" font-size="26.4" font-style="italic" font-weight="normal" textLength="37.5" lengthAdjust="spacingAndGlyphs" stroke="#000" stroke-width="0.9">160</text>
<text x="515.5" y="1503.0" font-family="Liberation Sans" font-size="26.4" font-style="italic" font-weight="normal" textLength="55.0" lengthAdjust="spacingAndGlyphs" stroke="#000" stroke-width="0.9">12,5μ</text>
<circle cx="601" cy="1416" r="4.3" fill="#000"/>
<polyline points="601.0,1416.0 649.0,1416.0 649.0,1454.0" fill="none" stroke="#000" stroke-width="2.9" stroke-linejoin="miter" stroke-linecap="butt"/>
<rect x="590.5" y="1434.0" width="20.6" height="60.6" rx="2.5" fill="#fff" stroke="#000" stroke-width="2.9"/>
<rect x="630.2" y="1454.8" width="39.5" height="5.5" rx="2.8" fill="#fff" stroke="#000" stroke-width="2.5"/>
<rect x="629" y="1467.0" width="42" height="8" rx="4.0" fill="#000"/>
<polyline points="649.0,1475.0 649.0,1519.0" fill="none" stroke="#000" stroke-width="2.9" stroke-linejoin="miter" stroke-linecap="butt"/>
<text x="542.0" y="1431.0" font-family="Liberation Sans" font-size="23.6" font-style="italic" font-weight="normal" textLength="37.5" lengthAdjust="spacingAndGlyphs" stroke="#000" stroke-width="0.9">160</text>
<text x="684.5" y="1459.0" font-family="Liberation Sans" font-size="26.4" font-style="italic" font-weight="normal" textLength="55.0" lengthAdjust="spacingAndGlyphs" stroke="#000" stroke-width="0.9">12,5μ</text>
<polyline points="675.0,1519.0 675.0,1565.0" fill="none" stroke="#000" stroke-width="2.9" stroke-linejoin="miter" stroke-linecap="butt"/>
<polyline points="675.0,1565.0 677.0,1635.0" fill="none" stroke="#000" stroke-width="8.5" stroke-linejoin="miter" stroke-linecap="round"/>
<path d="M618,1606 Q675,1665 731,1606" fill="none" stroke="#000" stroke-width="4.5" stroke-linecap="round" stroke-linejoin="round"/>
<path d="M646,1593 Q675,1622 706,1594" fill="none" stroke="#000" stroke-width="2.4" stroke-linecap="round" stroke-linejoin="round"/>
<path d="M642,1587 L655,1593 L646,1601 Z" fill="#000" stroke="none"/>
<path d="M711,1587 L698,1593 L707,1601 Z" fill="#000" stroke="none"/>
<polyline points="607.0,1600.0 617.0,1593.0" fill="none" stroke="#000" stroke-width="2.4" stroke-linejoin="miter" stroke-linecap="butt"/>
<polyline points="731.0,1593.0 740.0,1600.0" fill="none" stroke="#000" stroke-width="2.4" stroke-linejoin="miter" stroke-linecap="butt"/>
<text x="703.5" y="1576.0" font-family="Liberation Sans" font-size="32.6" font-style="italic" font-weight="normal" textLength="23.5" lengthAdjust="spacingAndGlyphs" stroke="#000" stroke-width="2.0">M</text>
<polyline points="677.0,1635.0 675.0,1672.0" fill="none" stroke="#000" stroke-width="2.9" stroke-linejoin="miter" stroke-linecap="butt"/>
<circle cx="675" cy="1656" r="4.5" fill="#000"/>
<polyline points="675.0,1656.0 727.5,1656.0 727.5,1672.0" fill="none" stroke="#000" stroke-width="2.9" stroke-linejoin="miter" stroke-linecap="butt"/>
<rect x="667.5" y="1673.5" width="20.1" height="15.1" rx="2.5" fill="#fff" stroke="#000" stroke-width="2.9"/>
<rect x="720.5" y="1673.5" width="18.1" height="15.1" rx="2.5" fill="#fff" stroke="#000" stroke-width="2.9"/>
<text x="733.0" y="1664.0" font-family="Liberation Sans" font-size="22.9" font-style="italic" font-weight="normal" textLength="39.0" lengthAdjust="spacingAndGlyphs" stroke="#000" stroke-width="1.5">12,5</text>
<polyline points="777.0,1516.5 777.0,1677.0" fill="none" stroke="#000" stroke-width="2.9" stroke-linejoin="miter" stroke-linecap="butt"/>
<line x1="380" y1="1677.5" x2="1282" y2="1676.5" stroke="#e8e8e8" stroke-width="2"/>
</svg>
</body></html>
